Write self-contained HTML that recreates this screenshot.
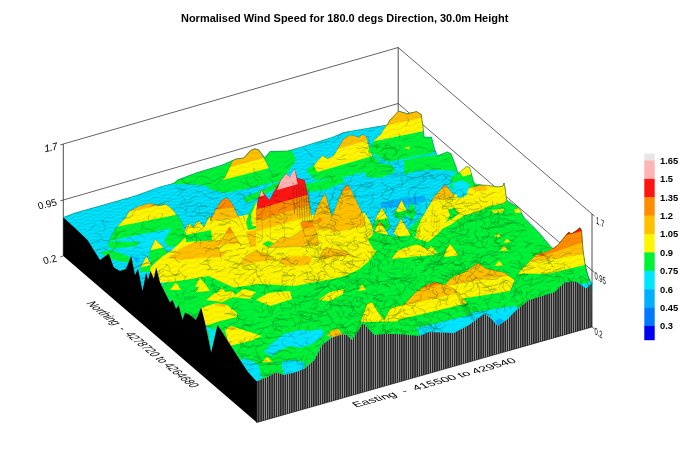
<!DOCTYPE html>
<html><head><meta charset="utf-8"><title>Normalised Wind Speed</title>
<style>html,body{margin:0;padding:0;background:#fff}body{width:690px;height:460px;overflow:hidden}
svg text{font-family:"Liberation Sans",sans-serif;fill:#000}</style></head>
<body><svg width="690" height="460" viewBox="0 0 690 460" style="display:block"><defs><pattern id="m3" width="10" height="3.4" patternUnits="userSpaceOnUse" patternTransform="rotate(-16)"><path d="M0 1.7 q2.5 -2 5 0 t5 0" fill="none" stroke="#035" stroke-opacity="0.38" stroke-width="0.5"/></pattern><clipPath id="c1"><polygon points="213.8,186.0 225.0,177.5 232.5,161.0 236.0,159.0 243.8,158.0 250.0,151.0 254.5,148.8 258.8,150.0 265.0,160.0 270.0,170.0 273.0,177.0 245.0,182.0"/></clipPath><clipPath id="c2"><polygon points="313.8,165.0 322.5,155.5 327.5,158.8 333.8,155.5 343.8,138.8 350.0,135.0 355.5,136.2 358.8,137.5 362.5,134.5 366.2,136.2 370.0,150.0 373.8,160.0 365.0,167.5 340.0,172.5 317.5,173.8"/></clipPath><clipPath id="c3"><polygon points="373.0,141.5 380.0,135.0 390.0,120.0 398.3,111.1 407.5,113.8 416.5,111.6 421.2,114.5 423.0,126.7 423.0,131.0 373.0,141.6"/></clipPath><clipPath id="c4"><polygon points="107.4,245.4 114.3,229.8 125.7,217.6 129.1,211.5 138.7,206.3 149.1,203.3 159.6,205.4 166.5,204.6 172.6,209.8 180.4,219.3 185.7,229.8 188.0,236.0 170.0,238.0 150.0,250.0 125.0,250.0"/></clipPath><clipPath id="c5"><polygon points="149.0,253.0 155.2,239.3 163.0,247.0 168.0,252.5 160.0,262.0 151.0,265.0"/></clipPath><clipPath id="c6"><polygon points="140.0,268.0 146.5,255.9 152.0,266.0 152.0,272.0 141.0,272.0"/></clipPath><clipPath id="c7"><polygon points="182.0,236.0 188.0,224.0 192.0,229.0 197.0,221.0 201.0,228.0 205.0,236.0 195.0,240.0"/></clipPath><clipPath id="c8"><polygon points="186.0,232.0 189.6,223.5 194.0,228.0 199.0,220.9 204.0,227.0 209.6,215.7 214.0,224.0 216.0,240.0 186.0,242.0"/></clipPath><clipPath id="c9"><polygon points="210.4,220.0 215.7,209.6 221.7,200.0 227.0,197.4 232.2,203.5 237.4,214.8 240.9,221.7 244.3,230.4 246.0,240.0 212.0,240.0"/></clipPath><clipPath id="c10"><polygon points="218.0,246.0 224.0,236.0 229.6,227.0 235.0,236.0 241.0,246.0 240.0,252.0 220.0,252.0"/></clipPath><clipPath id="c11"><polygon points="256.0,214.0 258.0,200.0 261.5,190.0 265.0,195.0 269.5,200.0 275.0,190.0 281.0,180.0 286.0,174.0 290.0,177.0 294.5,169.0 297.0,178.0 304.5,180.0 308.0,195.0 312.0,220.0 315.0,240.0 312.0,250.0 256.0,252.0"/></clipPath><clipPath id="c12"><polygon points="312.0,222.0 317.0,207.5 325.0,193.0 328.2,203.8 332.0,217.5 332.0,240.0 312.0,240.0"/></clipPath><clipPath id="c13"><polygon points="330.0,222.0 332.0,217.5 339.5,197.5 343.0,190.0 347.0,184.5 351.0,190.0 354.5,197.5 362.0,212.5 367.0,232.5 366.0,240.0 330.0,242.0"/></clipPath><clipPath id="c14"><polygon points="372.0,228.0 376.7,216.0 382.0,207.4 387.6,218.0 391.0,228.0 380.0,232.0"/></clipPath><clipPath id="c15"><polygon points="393.0,216.0 398.0,207.0 401.7,199.8 405.0,207.0 409.0,214.0 400.0,220.0"/></clipPath><clipPath id="c16"><polygon points="425.6,211.7 434.3,196.5 445.2,184.6 451.7,192.2 460.4,205.2 464.8,211.7 455.0,222.0 430.0,226.0"/></clipPath><clipPath id="c17"><polygon points="443.0,258.0 446.0,250.0 450.0,243.8 455.0,250.0 461.5,260.0 452.0,264.0"/></clipPath><clipPath id="c18"><polygon points="355.0,334.0 362.0,318.0 367.0,304.0 372.0,302.0 378.0,312.0 384.0,320.0 390.0,309.0 396.0,306.5 404.0,305.0 410.0,300.0 410.0,338.0 355.0,338.0"/></clipPath><clipPath id="c19"><polygon points="440.0,290.0 451.5,277.5 464.0,272.5 477.8,263.0 486.5,268.8 504.0,272.5 516.5,281.2 524.0,287.5 531.0,294.0 531.0,302.0 516.5,312.0 506.5,322.0 497.8,328.0 490.0,320.0 484.0,316.0 469.0,327.0 440.0,327.0"/></clipPath><clipPath id="c20"><polygon points="398.0,312.0 404.0,305.0 414.0,293.8 424.0,286.2 434.0,282.0 445.2,285.0 454.0,288.8 466.5,302.5 471.5,315.0 478.0,319.0 469.0,327.0 454.0,335.0 429.0,334.0 419.0,338.0 404.0,336.5 398.0,336.0"/></clipPath><clipPath id="c21"><polygon points="510.0,292.0 515.0,280.0 519.4,271.8 537.0,254.0 548.7,251.2 558.5,244.4 567.3,233.6 569.3,232.2 571.0,234.0 576.0,231.0 580.0,227.7 581.6,230.7 583.0,250.2 585.0,264.0 587.9,275.7 590.8,282.5 592.5,283.5 592.5,290.0 585.9,290.0 576.1,284.0 564.4,285.0 554.6,294.0 544.0,297.5 529.0,302.0 518.0,310.0"/></clipPath><clipPath id="c22"><polygon points="318.0,262.0 322.0,252.0 326.0,247.5 334.0,249.0 345.0,251.0 356.0,258.0 350.0,262.0"/></clipPath><clipPath id="c23"><polygon points="371.7,240.0 375.0,230.0 379.3,220.7 383.0,226.0 387.0,232.0 391.3,240.7 380.0,244.0"/></clipPath><clipPath id="c24"><polygon points="393.5,233.0 397.0,226.0 401.0,218.5 406.5,227.6 413.0,238.5 402.0,241.0"/></clipPath><clipPath id="c25"><polygon points="391.3,259.0 400.0,247.2 408.7,241.3 421.7,246.0 434.8,253.7 428.0,260.0 400.0,262.0"/></clipPath><clipPath id="c26"><polygon points="238.0,266.0 246.0,256.0 256.0,250.5 266.0,254.0 280.0,262.0 276.0,268.0 244.0,269.0"/></clipPath><pattern id="m1" width="13" height="5.5" patternUnits="userSpaceOnUse" patternTransform="rotate(-16)"><path d="M0 2.5 q3.2 -2.6 6.5 0 t6.5 0" fill="none" stroke="#013" stroke-opacity="0.17" stroke-width="0.55"/></pattern><clipPath id="surfc"><polygon points="63.3,217.5 75.0,213.0 100.0,206.0 135.0,196.0 160.0,187.0 175.0,183.0 177.5,180.0 197.5,172.5 222.5,165.0 232.5,160.5 236.0,159.0 243.8,158.0 250.0,151.0 254.5,148.8 258.8,150.0 265.0,158.0 270.0,151.5 287.5,151.0 300.0,147.5 332.0,137.5 343.8,132.5 372.5,127.5 387.5,125.0 390.0,120.0 398.8,111.2 407.5,113.8 416.5,111.6 421.2,114.5 423.0,126.7 424.0,137.2 431.5,137.2 434.5,149.0 437.4,155.8 447.2,151.9 451.1,153.8 456.0,166.6 458.0,173.4 466.8,166.6 469.7,167.5 472.6,178.3 474.6,186.1 478.5,184.5 499.0,187.0 503.0,186.0 504.0,183.0 505.0,187.5 506.5,200.0 519.0,208.0 524.0,217.5 539.0,232.5 551.5,247.5 554.0,249.0 558.5,244.4 567.3,233.6 569.3,232.2 571.0,234.0 576.0,231.0 580.0,227.7 581.6,230.7 583.0,250.2 585.0,264.0 587.9,275.7 590.8,282.5 591.8,283.5 585.9,288.4 576.1,281.6 564.4,282.5 554.6,292.3 544.0,295.5 529.0,300.0 516.5,310.0 506.5,320.0 497.8,326.0 490.0,317.5 484.0,313.8 469.0,325.0 454.0,333.0 429.0,332.0 419.0,336.0 404.0,334.5 387.0,333.8 374.5,335.0 368.2,328.8 363.2,323.0 357.0,332.5 352.0,340.0 347.0,335.0 342.0,334.5 332.0,337.5 322.0,345.0 314.5,360.0 304.5,368.8 294.5,372.5 284.5,375.0 275.8,372.5 269.5,376.0 256.8,381.5 248.0,372.0 240.0,360.0 232.0,347.5 222.5,332.5 217.5,325.0 211.2,352.5 205.0,322.5 201.2,307.5 196.0,320.0 190.0,315.0 185.0,312.5 182.5,320.0 178.8,305.5 176.0,308.8 172.5,300.0 170.0,302.5 165.0,292.5 160.0,282.5 156.2,267.5 153.8,278.8 150.5,271.0 148.0,280.0 146.2,272.5 142.5,291.0 138.0,268.8 135.0,275.0 131.2,256.0 126.0,269.0 120.0,271.0 113.8,267.5 108.8,253.8 104.0,257.0 100.0,260.0 87.5,240.0 75.0,228.0 63.3,217.5"/></clipPath><pattern id="st" width="2.2" height="8" patternUnits="userSpaceOnUse"><rect width="2.2" height="8" fill="#262626"/><rect x="0" width="0.55" height="8" fill="#c8c8c8"/></pattern></defs><polyline points="63.3,144.0 398.2,47.5 592.0,214.0" fill="none" stroke="#222" stroke-width="0.7"/>
<polyline points="63.3,200.0 398.2,103.5 592.0,270.5" fill="none" stroke="#222" stroke-width="0.7"/>
<polyline points="63.3,144.0 63.3,256.0" fill="none" stroke="#222" stroke-width="0.8"/>
<polyline points="398.2,47.5 398.2,159.5" fill="none" stroke="#222" stroke-width="0.8"/>
<polyline points="592.0,214.0 592.0,327.0" fill="none" stroke="#222" stroke-width="0.8"/>
<polyline points="60.3,144.9 63.3,144.0" fill="none" stroke="#222" stroke-width="0.7"/>
<polyline points="60.3,200.9 63.3,200.0" fill="none" stroke="#222" stroke-width="0.7"/>
<polyline points="60.3,256.9 63.3,256.0" fill="none" stroke="#222" stroke-width="0.7"/>
<polyline points="592.0,214.0 594.5,216.0" fill="none" stroke="#222" stroke-width="0.7"/>
<polyline points="592.0,270.5 594.5,272.5" fill="none" stroke="#222" stroke-width="0.7"/>
<polyline points="592.0,327.0 594.5,329.0" fill="none" stroke="#222" stroke-width="0.7"/>
<polygon points="63.3,217.5 75.0,213.0 100.0,206.0 135.0,196.0 160.0,187.0 175.0,183.0 177.5,180.0 197.5,172.5 222.5,165.0 232.5,160.5 236.0,159.0 243.8,158.0 250.0,151.0 254.5,148.8 258.8,150.0 265.0,158.0 270.0,151.5 287.5,151.0 300.0,147.5 332.0,137.5 343.8,132.5 372.5,127.5 387.5,125.0 390.0,120.0 398.8,111.2 407.5,113.8 416.5,111.6 421.2,114.5 423.0,126.7 424.0,137.2 431.5,137.2 434.5,149.0 437.4,155.8 447.2,151.9 451.1,153.8 456.0,166.6 458.0,173.4 466.8,166.6 469.7,167.5 472.6,178.3 474.6,186.1 478.5,184.5 499.0,187.0 503.0,186.0 504.0,183.0 505.0,187.5 506.5,200.0 519.0,208.0 524.0,217.5 539.0,232.5 551.5,247.5 554.0,249.0 558.5,244.4 567.3,233.6 569.3,232.2 571.0,234.0 576.0,231.0 580.0,227.7 581.6,230.7 583.0,250.2 585.0,264.0 587.9,275.7 590.8,282.5 591.8,283.5 585.9,288.4 576.1,281.6 564.4,282.5 554.6,292.3 544.0,295.5 529.0,300.0 516.5,310.0 506.5,320.0 497.8,326.0 490.0,317.5 484.0,313.8 469.0,325.0 454.0,333.0 429.0,332.0 419.0,336.0 404.0,334.5 387.0,333.8 374.5,335.0 368.2,328.8 363.2,323.0 357.0,332.5 352.0,340.0 347.0,335.0 342.0,334.5 332.0,337.5 322.0,345.0 314.5,360.0 304.5,368.8 294.5,372.5 284.5,375.0 275.8,372.5 269.5,376.0 256.8,381.5 248.0,372.0 240.0,360.0 232.0,347.5 222.5,332.5 217.5,325.0 211.2,352.5 205.0,322.5 201.2,307.5 196.0,320.0 190.0,315.0 185.0,312.5 182.5,320.0 178.8,305.5 176.0,308.8 172.5,300.0 170.0,302.5 165.0,292.5 160.0,282.5 156.2,267.5 153.8,278.8 150.5,271.0 148.0,280.0 146.2,272.5 142.5,291.0 138.0,268.8 135.0,275.0 131.2,256.0 126.0,269.0 120.0,271.0 113.8,267.5 108.8,253.8 104.0,257.0 100.0,260.0 87.5,240.0 75.0,228.0 63.3,217.5" fill="#00f236" stroke="#0a8" stroke-width="0.4"/>
<polygon points="63.3,217.5 75.0,213.0 100.0,206.0 135.0,196.0 160.0,187.0 175.0,183.0 177.5,180.0 197.5,172.5 222.5,165.0 232.5,160.5 236.0,159.0 243.8,158.0 250.0,151.0 254.5,148.8 258.8,150.0 265.0,158.0 270.0,151.5 287.5,151.0 300.0,147.5 332.0,137.5 343.8,132.5 372.5,127.5 387.5,125.0 390.0,120.0 398.8,111.2 407.5,113.8 416.5,111.6 421.2,114.5 423.0,126.7 424.0,137.2 431.5,137.2 434.5,149.0 437.4,155.8 458.0,175.0 470.0,190.0 480.0,200.0 470.0,215.0 440.0,235.0 400.0,240.0 330.0,235.0 255.0,215.0 200.0,262.0 150.0,292.0 142.5,291.0 138.0,268.8 135.0,275.0 131.2,256.0 126.0,269.0 120.0,271.0 113.8,267.5 108.8,253.8 104.0,257.0 100.0,260.0 87.5,240.0 75.0,228.0 63.3,217.5" fill="#00e6ff"/>
<polygon points="63.3,217.5 75.0,213.0 100.0,206.0 135.0,196.0 160.0,187.0 175.0,183.0 177.5,180.0 197.5,172.5 222.5,165.0 232.5,160.5 236.0,159.0 243.8,158.0 250.0,151.0 254.5,148.8 258.8,150.0 265.0,158.0 270.0,151.5 287.5,151.0 300.0,147.5 332.0,137.5 343.8,132.5 372.5,127.5 387.5,125.0 390.0,120.0 398.8,111.2 407.5,113.8 416.5,111.6 421.2,114.5 423.0,126.7 424.0,137.2 431.5,137.2 434.5,149.0 437.4,155.8 458.0,175.0 470.0,190.0 480.0,200.0 470.0,215.0 440.0,235.0 400.0,240.0 330.0,235.0 255.0,215.0 200.0,262.0 150.0,292.0 142.5,291.0 138.0,268.8 135.0,275.0 131.2,256.0 126.0,269.0 120.0,271.0 113.8,267.5 108.8,253.8 104.0,257.0 100.0,260.0 87.5,240.0 75.0,228.0 63.3,217.5" fill="url(#m3)"/>
<polygon points="172.0,184.0 177.5,180.0 197.5,172.5 222.5,165.0 234.0,160.0 228.0,178.0 214.0,186.5 192.0,184.5" fill="#00f236"/>
<polygon points="205.0,186.0 225.0,176.0 272.0,172.0 264.0,158.0 270.0,151.5 287.5,151.0 292.0,150.0 296.0,160.0 288.0,172.0 280.0,181.0 250.0,188.0 225.0,193.0 212.0,190.0" fill="#00f236"/>
<g clip-path="url(#c1)"><polygon points="211.8,205.3 275.0,188.9 275.0,177.1 211.8,193.5" fill="#00e6ff"/><polygon points="211.8,194.1 275.0,177.7 275.0,165.9 211.8,182.3" fill="#00f236"/><polygon points="211.8,182.9 275.0,166.5 275.0,154.7 211.8,171.1" fill="#fff500"/><polygon points="211.8,171.7 275.0,155.3 275.0,143.5 211.8,159.9" fill="#ffc000"/><polygon points="211.8,160.5 275.0,144.1 275.0,132.3 211.8,148.7" fill="#ff8c00"/><polygon points="211.8,149.3 275.0,132.9 275.0,121.1 211.8,137.5" fill="#ff1414"/></g>
<polyline points="213.8,186.0 225.0,177.5 232.5,161.0 236.0,159.0 243.8,158.0 250.0,151.0 254.5,148.8 258.8,150.0 265.0,160.0 270.0,170.0 273.0,177.0" fill="none" stroke="#000" stroke-opacity="0.35" stroke-width="0.5"/>
<polygon points="243.0,198.0 262.0,190.0 277.0,182.0 281.0,186.0 262.0,196.0 247.0,203.0" fill="#00f236"/>
<polygon points="305.0,184.0 325.0,180.0 342.0,176.0 344.0,182.0 325.0,190.0 308.0,192.0" fill="#00f236"/>
<polygon points="306.0,170.0 313.8,165.0 340.0,168.0 372.0,156.0 380.0,160.0 372.0,170.0 340.0,178.0 315.0,180.0" fill="#00f236"/>
<g clip-path="url(#c2)"><polygon points="311.8,207.6 375.8,189.0 375.8,171.4 311.8,190.0" fill="#00f236"/><polygon points="311.8,190.6 375.8,172.0 375.8,154.4 311.8,173.0" fill="#00f236"/><polygon points="311.8,173.6 375.8,155.0 375.8,137.4 311.8,156.0" fill="#fff500"/><polygon points="311.8,156.6 375.8,138.0 375.8,120.4 311.8,139.0" fill="#ffc000"/><polygon points="311.8,139.6 375.8,121.0 375.8,103.4 311.8,122.0" fill="#ff8c00"/></g>
<polyline points="313.8,165.0 322.5,155.5 327.5,158.8 333.8,155.5 343.8,138.8 350.0,135.0 355.5,136.2 358.8,137.5 362.5,134.5 366.2,136.2 370.0,150.0 373.8,160.0" fill="none" stroke="#000" stroke-opacity="0.35" stroke-width="0.5"/>
<polygon points="373.0,141.5 422.6,131.0 424.7,137.2 431.5,137.2 434.8,151.0 430.0,154.0 417.0,156.0 403.0,159.0 388.0,162.0 376.5,155.5 368.0,152.0" fill="#00f236"/>
<polygon points="404.0,148.0 410.0,146.5 409.0,149.5" fill="#fff500"/>
<g clip-path="url(#c3)"><polygon points="371.0,156.5 425.0,145.0 425.0,130.4 371.0,141.9" fill="#fff500"/><polygon points="371.0,142.5 425.0,131.0 425.0,116.4 371.0,127.9" fill="#fff500"/><polygon points="371.0,128.5 425.0,117.0 425.0,102.4 371.0,113.9" fill="#ffc000"/><polygon points="371.0,114.5 425.0,103.0 425.0,88.4 371.0,99.9" fill="#ff8c00"/></g>
<polyline points="373.0,141.5 380.0,135.0 390.0,120.0 398.3,111.1 407.5,113.8 416.5,111.6 421.2,114.5 423.0,126.7" fill="none" stroke="#000" stroke-opacity="0.35" stroke-width="0.5"/>
<polygon points="426.0,159.0 434.8,154.6 437.4,155.8 447.0,152.3 451.1,153.8 454.8,164.1 456.5,169.3 455.0,171.0 442.0,170.0 430.0,169.5 416.0,171.0 403.0,175.0 408.0,168.0" fill="#00f236"/>
<polygon points="363.5,167.0 375.0,162.5 392.0,165.0 395.0,172.0 380.0,178.0 366.0,177.0" fill="#00f236"/>
<polygon points="452.0,176.0 458.0,173.4 466.8,166.6 469.7,167.5 472.6,178.3 474.6,186.1 470.0,192.0 458.0,192.0 450.0,186.0" fill="#00f236"/>
<polygon points="459.5,172.0 466.8,166.6 469.7,167.5 471.5,174.0 463.0,176.5" fill="#fff500"/>
<g clip-path="url(#c4)"><polygon points="105.4,279.0 190.0,262.1 190.0,249.0 105.4,265.9" fill="#00e6ff"/><polygon points="105.4,266.5 190.0,249.6 190.0,236.5 105.4,253.4" fill="#00e6ff"/><polygon points="105.4,254.0 190.0,237.1 190.0,224.0 105.4,240.9" fill="#00e6ff"/><polygon points="105.4,241.5 190.0,224.6 190.0,211.5 105.4,228.4" fill="#00f236"/><polygon points="105.4,229.0 190.0,212.1 190.0,199.0 105.4,215.9" fill="#fff500"/><polygon points="105.4,216.5 190.0,199.6 190.0,186.5 105.4,203.4" fill="#ffc000"/><polygon points="105.4,204.0 190.0,187.1 190.0,174.0 105.4,190.9" fill="#ff8c00"/></g>
<polyline points="107.4,245.4 114.3,229.8 125.7,217.6 129.1,211.5 138.7,206.3 149.1,203.3 159.6,205.4 166.5,204.6 172.6,209.8 180.4,219.3 185.7,229.8 188.0,236.0" fill="none" stroke="#000" stroke-opacity="0.35" stroke-width="0.5"/>
<polygon points="107.4,245.4 110.0,241.0 135.0,242.0 140.0,240.0 137.0,246.0 125.0,247.5 112.0,249.0" fill="#00f236"/>
<polygon points="137.0,236.0 150.0,233.0 152.0,247.0 143.0,250.0" fill="#00e6ff"/>
<polygon points="164.0,240.0 172.0,228.0 181.0,226.0 186.0,232.0 188.0,240.0 178.0,246.0 168.0,247.0" fill="#00f236"/>
<g clip-path="url(#c5)"><polygon points="147.0,277.9 170.0,273.3 170.0,263.7 147.0,268.3" fill="#00f236"/><polygon points="147.0,268.9 170.0,264.3 170.0,254.7 147.0,259.3" fill="#00f236"/><polygon points="147.0,259.9 170.0,255.3 170.0,245.7 147.0,250.3" fill="#00f236"/><polygon points="147.0,250.9 170.0,246.3 170.0,236.7 147.0,241.3" fill="#fff500"/><polygon points="147.0,241.9 170.0,237.3 170.0,227.7 147.0,232.3" fill="#fff500"/></g>
<polyline points="149.0,253.0 155.2,239.3 163.0,247.0 168.0,252.5" fill="none" stroke="#000" stroke-opacity="0.35" stroke-width="0.5"/>
<g clip-path="url(#c6)"><polygon points="138.0,285.9 154.0,282.7 154.0,273.1 138.0,276.3" fill="#00f236"/><polygon points="138.0,276.9 154.0,273.7 154.0,264.1 138.0,267.3" fill="#00f236"/><polygon points="138.0,267.9 154.0,264.7 154.0,255.1 138.0,258.3" fill="#fff500"/><polygon points="138.0,258.9 154.0,255.7 154.0,246.1 138.0,249.3" fill="#fff500"/></g>
<polyline points="140.0,268.0 146.5,255.9 152.0,266.0" fill="none" stroke="#000" stroke-opacity="0.35" stroke-width="0.5"/>
<polygon points="100.0,252.0 112.0,250.0 128.0,256.0 133.0,262.0 122.0,262.0 108.0,258.0" fill="#00f236"/>
<polygon points="132.0,256.0 140.0,258.0 137.0,263.0" fill="#00b0ff"/>
<g clip-path="url(#c7)"><polygon points="180.0,253.3 207.0,247.9 207.0,237.3 180.0,242.7" fill="#00f236"/><polygon points="180.0,243.3 207.0,237.9 207.0,227.3 180.0,232.7" fill="#00f236"/><polygon points="180.0,233.3 207.0,227.9 207.0,217.3 180.0,222.7" fill="#fff500"/><polygon points="180.0,223.3 207.0,217.9 207.0,207.3 180.0,212.7" fill="#fff500"/></g>
<polyline points="182.0,236.0 188.0,224.0 192.0,229.0 197.0,221.0 201.0,228.0 205.0,236.0" fill="none" stroke="#000" stroke-opacity="0.35" stroke-width="0.5"/>
<polygon points="150.0,268.0 160.0,258.0 172.0,250.0 185.0,238.0 205.0,232.0 215.0,222.0 245.0,215.0 258.0,212.0 312.0,215.0 335.0,215.0 365.0,213.0 372.0,225.0 377.0,250.0 368.0,262.0 358.0,270.0 345.0,276.0 332.0,279.0 294.5,286.0 260.0,284.0 233.5,287.5 208.5,276.0 185.0,280.0 161.0,283.0 152.0,278.0" fill="#fff500"/>
<polygon points="168.0,258.0 180.0,249.0 198.0,240.0 212.0,234.0 228.0,238.0 230.0,250.0 222.0,257.0 200.0,258.0 180.0,260.0" fill="#ffc000"/>
<polygon points="246.0,232.0 262.0,228.0 290.0,226.0 318.0,228.0 322.0,240.0 300.0,247.0 270.0,248.0 250.0,246.0" fill="#ffc000"/>
<polygon points="276.0,259.0 295.0,256.0 311.0,258.0 308.0,265.0 285.0,266.0" fill="#ffc000"/>
<polygon points="201.0,308.0 215.0,303.5 227.0,305.0 237.0,313.0 237.0,317.0 220.0,321.0 205.0,326.0" fill="#fff500"/>
<polygon points="214.0,304.5 218.0,303.0 227.0,305.0 225.0,307.5" fill="#ffc000"/>
<polygon points="225.0,330.0 231.0,326.0 240.0,329.0 262.0,336.0 250.0,341.0 229.0,346.0" fill="#fff500"/>
<polygon points="228.0,328.0 231.0,326.0 237.0,328.5 233.0,330.0" fill="#ffc000"/>
<polygon points="237.0,362.0 248.0,372.0 256.8,381.5 262.0,378.0 258.0,364.0 245.0,358.0" fill="#00e6ff"/>
<polygon points="195.0,287.0 200.0,277.5 206.0,286.0" fill="#fff500"/>
<polygon points="170.0,290.0 176.0,282.0 181.0,290.0" fill="#fff500"/>
<polygon points="215.0,296.0 222.0,287.0 228.0,296.0" fill="#fff500"/>
<g clip-path="url(#c8)"><polygon points="184.0,255.5 218.0,248.7 218.0,238.1 184.0,244.9" fill="#00f236"/><polygon points="184.0,245.5 218.0,238.7 218.0,228.1 184.0,234.9" fill="#00f236"/><polygon points="184.0,235.5 218.0,228.7 218.0,218.1 184.0,224.9" fill="#fff500"/><polygon points="184.0,225.5 218.0,218.7 218.0,208.1 184.0,214.9" fill="#fff500"/><polygon points="184.0,215.5 218.0,208.7 218.0,198.1 184.0,204.9" fill="#fff500"/></g>
<polyline points="186.0,232.0 189.6,223.5 194.0,228.0 199.0,220.9 204.0,227.0 209.6,215.7 214.0,224.0" fill="none" stroke="#000" stroke-opacity="0.35" stroke-width="0.5"/>
<g clip-path="url(#c9)"><polygon points="208.4,254.2 248.0,250.2 248.0,238.6 208.4,242.6" fill="#fff500"/><polygon points="208.4,243.2 248.0,239.2 248.0,227.6 208.4,231.6" fill="#fff500"/><polygon points="208.4,232.2 248.0,228.2 248.0,216.6 208.4,220.6" fill="#fff500"/><polygon points="208.4,221.2 248.0,217.2 248.0,205.6 208.4,209.6" fill="#ffc000"/><polygon points="208.4,210.2 248.0,206.2 248.0,194.6 208.4,198.6" fill="#ff8c00"/><polygon points="208.4,199.2 248.0,195.2 248.0,183.6 208.4,187.6" fill="#ff1414"/></g>
<polyline points="210.4,220.0 215.7,209.6 221.7,200.0 227.0,197.4 232.2,203.5 237.4,214.8 240.9,221.7 244.3,230.4" fill="none" stroke="#000" stroke-opacity="0.35" stroke-width="0.5"/>
<g clip-path="url(#c10)"><polygon points="216.0,267.7 243.0,265.0 243.0,253.4 216.0,256.1" fill="#fff500"/><polygon points="216.0,256.7 243.0,254.0 243.0,242.4 216.0,245.1" fill="#fff500"/><polygon points="216.0,245.7 243.0,243.0 243.0,231.4 216.0,234.1" fill="#ffc000"/><polygon points="216.0,234.7 243.0,232.0 243.0,220.4 216.0,223.1" fill="#ff8c00"/></g>
<polyline points="218.0,246.0 224.0,236.0 229.6,227.0 235.0,236.0 241.0,246.0" fill="none" stroke="#000" stroke-opacity="0.35" stroke-width="0.5"/>
<polygon points="246.0,222.0 249.6,212.0 254.0,204.0 256.5,201.7 258.0,212.0 258.0,228.0 248.0,230.0" fill="#00f236"/>
<polygon points="251.0,215.0 256.5,201.7 258.0,212.0 258.0,226.0 252.0,226.0" fill="#fff500"/>
<g clip-path="url(#c11)"><polygon points="254.0,276.0 317.0,258.0 317.0,246.4 254.0,264.4" fill="#fff500"/><polygon points="254.0,265.0 317.0,247.0 317.0,235.4 254.0,253.4" fill="#fff500"/><polygon points="254.0,254.0 317.0,236.0 317.0,224.4 254.0,242.4" fill="#fff500"/><polygon points="254.0,243.0 317.0,225.0 317.0,213.4 254.0,231.4" fill="#fff500"/><polygon points="254.0,232.0 317.0,214.0 317.0,202.4 254.0,220.4" fill="#ffc000"/><polygon points="254.0,221.0 317.0,203.0 317.0,191.4 254.0,209.4" fill="#ff8c00"/><polygon points="254.0,210.0 317.0,192.0 317.0,180.4 254.0,198.4" fill="#ff1414"/><polygon points="254.0,199.0 317.0,181.0 317.0,169.4 254.0,187.4" fill="#ff1414"/><polygon points="254.0,188.0 317.0,170.0 317.0,158.4 254.0,176.4" fill="#ff1414"/><polygon points="254.0,177.0 317.0,159.0 317.0,147.4 254.0,165.4" fill="#ff1414"/></g>
<polyline points="256.0,214.0 258.0,200.0 261.5,190.0 265.0,195.0 269.5,200.0 275.0,190.0 281.0,180.0 286.0,174.0 290.0,177.0 294.5,169.0 297.0,178.0 304.5,180.0 308.0,195.0 312.0,220.0 315.0,240.0" fill="none" stroke="#000" stroke-opacity="0.35" stroke-width="0.5"/>
<polygon points="277.0,190.0 281.0,180.0 286.0,174.0 290.0,177.0 292.5,172.0 294.5,169.0 296.0,176.0 297.5,184.3" fill="#ffb4b4"/>
<polygon points="259.3,196.8 261.5,190.0 264.2,195.4" fill="#ffb4b4"/>
<polygon points="380.0,203.0 392.0,200.0 402.0,198.0 425.0,195.5 426.0,201.0 404.0,206.0 390.0,208.0 381.0,207.5" fill="#00b0ff"/>
<polygon points="451.7,176.0 470.0,180.0 480.0,186.0 478.0,194.0 462.0,193.0 452.0,188.0" fill="#00f236"/>
<g clip-path="url(#c12)"><polygon points="310.0,262.3 334.0,257.5 334.0,226.9 310.0,231.7" fill="#fff500"/><polygon points="310.0,232.3 334.0,227.5 334.0,196.9 310.0,201.7" fill="#ffc000"/><polygon points="310.0,202.3 334.0,197.5 334.0,166.9 310.0,171.7" fill="#ffc000"/></g>
<polyline points="312.0,222.0 317.0,207.5 325.0,193.0 328.2,203.8 332.0,217.5" fill="none" stroke="#000" stroke-opacity="0.35" stroke-width="0.5"/>
<g clip-path="url(#c13)"><polygon points="320.0,180.0 370.0,180.0 370.0,245.0 320.0,245.0" fill="#fff500"/><polygon points="320.0,180.0 370.0,180.0 370.0,225.0 320.0,235.0" fill="#ffc000"/><polygon points="320.0,180.0 370.0,180.0 370.0,186.0 320.0,196.0" fill="#ff8c00"/></g>
<polyline points="330.0,222.0 332.0,217.5 339.5,197.5 343.0,190.0 347.0,184.5 351.0,190.0 354.5,197.5 362.0,212.5 367.0,232.5" fill="none" stroke="#000" stroke-opacity="0.35" stroke-width="0.5"/>
<g clip-path="url(#c14)"><polygon points="370.0,241.1 393.0,237.7 393.0,227.0 370.0,230.5" fill="#00f236"/><polygon points="370.0,231.1 393.0,227.7 393.0,217.0 370.0,220.5" fill="#00f236"/><polygon points="370.0,221.1 393.0,217.7 393.0,207.0 370.0,210.5" fill="#fff500"/><polygon points="370.0,211.1 393.0,207.7 393.0,197.0 370.0,200.5" fill="#fff500"/></g>
<polyline points="372.0,228.0 376.7,216.0 382.0,207.4 387.6,218.0 391.0,228.0" fill="none" stroke="#000" stroke-opacity="0.35" stroke-width="0.5"/>
<g clip-path="url(#c15)"><polygon points="391.0,232.9 411.0,229.9 411.0,219.3 391.0,222.3" fill="#00f236"/><polygon points="391.0,222.9 411.0,219.9 411.0,209.3 391.0,212.3" fill="#00f236"/><polygon points="391.0,212.9 411.0,209.9 411.0,199.3 391.0,202.3" fill="#fff500"/><polygon points="391.0,202.9 411.0,199.9 411.0,189.3 391.0,192.3" fill="#fff500"/></g>
<polyline points="393.0,216.0 398.0,207.0 401.7,199.8 405.0,207.0 409.0,214.0" fill="none" stroke="#000" stroke-opacity="0.35" stroke-width="0.5"/>
<polygon points="407.0,214.0 411.5,202.0 416.0,212.0 412.0,222.0" fill="#00f236"/>
<polygon points="404.0,240.0 410.0,228.0 424.0,214.0 440.0,205.0 470.0,200.0 482.0,200.0 470.0,216.0 440.0,236.0 420.0,242.0" fill="#00f236"/>
<polygon points="404.0,160.0 420.0,157.0 437.0,155.0 440.0,162.0 425.0,168.0 404.0,172.0" fill="#00f236"/>
<polygon points="416.0,232.0 421.0,220.0 428.0,208.0 440.0,215.0 438.0,228.0 430.0,236.0" fill="#fff500"/>
<g clip-path="url(#c16)"><polygon points="423.6,247.3 466.8,238.7 466.8,227.1 423.6,235.7" fill="#00f236"/><polygon points="423.6,236.3 466.8,227.7 466.8,216.1 423.6,224.7" fill="#00f236"/><polygon points="423.6,225.3 466.8,216.7 466.8,205.1 423.6,213.7" fill="#00f236"/><polygon points="423.6,214.3 466.8,205.7 466.8,194.1 423.6,202.7" fill="#fff500"/><polygon points="423.6,203.3 466.8,194.7 466.8,183.1 423.6,191.7" fill="#ffc000"/><polygon points="423.6,192.3 466.8,183.7 466.8,172.1 423.6,180.7" fill="#ff8c00"/></g>
<polyline points="425.6,211.7 434.3,196.5 445.2,184.6 451.7,192.2 460.4,205.2 464.8,211.7" fill="none" stroke="#000" stroke-opacity="0.35" stroke-width="0.5"/>
<polygon points="451.5,203.8 454.0,195.0 461.5,190.0 472.8,187.0 486.5,185.0 499.0,187.0 503.0,186.0 504.0,183.0 505.0,187.5 506.5,200.0 504.0,203.8 489.0,206.2 479.0,211.2 466.5,215.0 457.8,212.5" fill="#fff500" stroke="#665" stroke-width="0.3"/>
<polygon points="471.5,188.0 479.0,185.5 486.5,185.5 486.5,190.0 475.0,191.5" fill="#ffc000"/>
<polygon points="491.5,210.0 504.0,208.8 503.0,212.5 493.0,213.0" fill="#fff500"/>
<polygon points="514.0,210.0 519.0,208.0 521.5,212.5 516.0,213.0" fill="#fff500"/>
<g clip-path="url(#c17)"><polygon points="441.0,269.2 463.5,266.9 463.5,254.3 441.0,256.6" fill="#00f236"/><polygon points="441.0,257.2 463.5,255.0 463.5,242.3 441.0,244.6" fill="#fff500"/><polygon points="441.0,245.2 463.5,243.0 463.5,230.3 441.0,232.6" fill="#fff500"/></g>
<polyline points="443.0,258.0 446.0,250.0 450.0,243.8 455.0,250.0 461.5,260.0" fill="none" stroke="#000" stroke-opacity="0.35" stroke-width="0.5"/>
<polygon points="494.0,237.0 498.0,233.5 502.0,236.7" fill="#fff500"/>
<polygon points="503.5,242.5 507.0,238.5 510.5,242.1" fill="#fff500"/>
<polygon points="500.0,251.3 504.0,245.3 508.0,250.7" fill="#fff500"/>
<polygon points="494.5,266.0 499.0,261.0 503.5,265.5" fill="#fff500"/>
<polygon points="424.0,254.0 431.0,246.0 438.0,253.2" fill="#fff500"/>
<polygon points="410.0,256.0 415.0,250.0 420.0,255.4" fill="#fff500"/>
<polygon points="264.0,352.0 270.0,345.0 284.0,334.0 300.0,330.0 310.0,331.0 322.0,329.0 324.0,335.0 312.0,344.0 300.0,348.0 290.0,346.0 280.0,350.0 272.0,356.0" fill="#00e6ff"/>
<polygon points="281.0,362.0 292.0,360.0 305.0,362.0 304.0,372.0 294.0,374.0 284.0,376.0" fill="#00e6ff"/>
<polygon points="262.0,362.0 267.5,356.8 273.0,362.6" fill="#fff500"/>
<polygon points="318.0,300.0 330.0,292.0 344.0,289.0 343.0,294.0 330.0,301.0" fill="#fff500"/>
<polygon points="358.0,291.0 362.0,284.0 366.0,290.0" fill="#fff500"/>
<polygon points="327.0,336.0 332.0,330.0 338.0,328.5 343.0,334.5 338.0,338.0" fill="#ffc000"/>
<g clip-path="url(#c18)"><polygon points="353.0,348.2 412.0,347.0 412.0,333.4 353.0,334.6" fill="#00f236"/><polygon points="353.0,335.2 412.0,334.0 412.0,320.4 353.0,321.6" fill="#00f236"/><polygon points="353.0,322.2 412.0,321.0 412.0,307.4 353.0,308.6" fill="#fff500"/><polygon points="353.0,309.2 412.0,308.0 412.0,294.4 353.0,295.6" fill="#fff500"/></g>
<polyline points="355.0,334.0 362.0,318.0 367.0,304.0 372.0,302.0 378.0,312.0 384.0,320.0 390.0,309.0 396.0,306.5 404.0,305.0 410.0,300.0" fill="none" stroke="#000" stroke-opacity="0.35" stroke-width="0.5"/>
<g clip-path="url(#c19)"><polygon points="438.0,349.1 533.0,333.9 533.0,317.8 438.0,333.0" fill="#00e6ff"/><polygon points="438.0,333.6 533.0,318.4 533.0,302.3 438.0,317.5" fill="#00e6ff"/><polygon points="438.0,318.1 533.0,302.9 533.0,286.8 438.0,302.0" fill="#00f236"/><polygon points="438.0,302.6 533.0,287.4 533.0,271.3 438.0,286.5" fill="#fff500"/><polygon points="438.0,287.1 533.0,271.9 533.0,255.8 438.0,271.0" fill="#ffc000"/><polygon points="438.0,271.6 533.0,256.4 533.0,240.3 438.0,255.5" fill="#ff8c00"/></g>
<polyline points="440.0,290.0 451.5,277.5 464.0,272.5 477.8,263.0 486.5,268.8 504.0,272.5 516.5,281.2 524.0,287.5 531.0,294.0" fill="none" stroke="#000" stroke-opacity="0.35" stroke-width="0.5"/>
<polygon points="495.0,321.0 500.0,318.0 504.0,320.5 498.0,326.0" fill="#00b0ff"/>
<g clip-path="url(#c20)"><polygon points="396.0,370.2 480.0,350.3 480.0,337.2 396.0,357.1" fill="#00e6ff"/><polygon points="396.0,357.7 480.0,337.8 480.0,324.7 396.0,344.6" fill="#00e6ff"/><polygon points="396.0,345.2 480.0,325.3 480.0,312.2 396.0,332.1" fill="#00e6ff"/><polygon points="396.0,332.7 480.0,312.8 480.0,299.7 396.0,319.6" fill="#00f236"/><polygon points="396.0,320.2 480.0,300.3 480.0,287.2 396.0,307.1" fill="#fff500"/><polygon points="396.0,307.7 480.0,287.8 480.0,274.7 396.0,294.6" fill="#ffc000"/><polygon points="396.0,295.2 480.0,275.3 480.0,262.2 396.0,282.1" fill="#ff8c00"/><polygon points="396.0,282.7 480.0,262.8 480.0,249.7 396.0,269.6" fill="#ff1414"/></g>
<polyline points="398.0,312.0 404.0,305.0 414.0,293.8 424.0,286.2 434.0,282.0 445.2,285.0 454.0,288.8 466.5,302.5 471.5,315.0 478.0,319.0" fill="none" stroke="#000" stroke-opacity="0.35" stroke-width="0.5"/>
<g clip-path="url(#c21)"><polygon points="500.0,220.0 600.0,220.0 600.0,300.0 500.0,300.0" fill="#00e6ff"/><polygon points="500.0,220.0 600.0,220.0 600.0,279.0 590.0,281.0 586.0,284.0 580.0,283.0 575.0,286.0 563.0,287.0 553.0,296.0 543.0,299.0 527.0,304.0 500.0,316.0" fill="#00f236"/><polygon points="500.0,220.0 600.0,220.0 600.0,262.0 585.0,265.0 548.7,273.7 519.4,273.7 505.0,280.0" fill="#fff500"/><polygon points="520.0,220.0 600.0,220.0 600.0,251.5 583.6,254.2 537.0,261.0 528.0,262.5" fill="#ffc000"/><polygon points="530.0,220.0 600.0,220.0 600.0,236.0 582.0,242.4 548.7,254.2 540.0,257.0" fill="#ff8c00"/><polygon points="560.0,220.0 600.0,220.0 600.0,226.5 580.0,231.6 568.3,234.6 560.0,236.6" fill="#ff1414"/></g>
<polyline points="510.0,292.0 515.0,280.0 519.4,271.8 537.0,254.0 548.7,251.2 558.5,244.4 567.3,233.6 569.3,232.2 571.0,234.0 576.0,231.0 580.0,227.7 581.6,230.7 583.0,250.2 585.0,264.0 587.9,275.7 590.8,282.5 592.5,283.5" fill="none" stroke="#000" stroke-opacity="0.35" stroke-width="0.5"/>
<polygon points="316.0,222.0 319.5,216.5 323.0,221.0" fill="#ff8c00"/>
<g clip-path="url(#c22)"><polygon points="316.0,272.3 358.0,266.0 358.0,253.4 316.0,259.7" fill="#fff500"/><polygon points="316.0,260.3 358.0,254.0 358.0,241.4 316.0,247.7" fill="#ffc000"/><polygon points="316.0,248.3 358.0,242.0 358.0,229.4 316.0,235.7" fill="#ffc000"/></g>
<polyline points="318.0,262.0 322.0,252.0 326.0,247.5 334.0,249.0 345.0,251.0 356.0,258.0" fill="none" stroke="#000" stroke-opacity="0.35" stroke-width="0.5"/>
<g clip-path="url(#c23)"><polygon points="369.7,252.8 393.3,250.4 393.3,236.8 369.7,239.2" fill="#00f236"/><polygon points="369.7,239.8 393.3,237.4 393.3,223.8 369.7,226.2" fill="#fff500"/><polygon points="369.7,226.8 393.3,224.4 393.3,210.8 369.7,213.2" fill="#ffc000"/></g>
<polyline points="371.7,240.0 375.0,230.0 379.3,220.7 383.0,226.0 387.0,232.0 391.3,240.7" fill="none" stroke="#000" stroke-opacity="0.35" stroke-width="0.5"/>
<g clip-path="url(#c24)"><polygon points="391.5,257.2 415.0,254.9 415.0,234.3 391.5,236.6" fill="#00f236"/><polygon points="391.5,237.2 415.0,234.9 415.0,214.3 391.5,216.6" fill="#fff500"/><polygon points="391.5,217.2 415.0,214.9 415.0,194.3 391.5,196.6" fill="#fff500"/></g>
<polyline points="393.5,233.0 397.0,226.0 401.0,218.5 406.5,227.6 413.0,238.5" fill="none" stroke="#000" stroke-opacity="0.35" stroke-width="0.5"/>
<g clip-path="url(#c25)"><polygon points="389.3,279.2 436.8,274.5 436.8,253.9 389.3,258.6" fill="#00f236"/><polygon points="389.3,259.2 436.8,254.5 436.8,233.9 389.3,238.6" fill="#fff500"/></g>
<polyline points="391.3,259.0 400.0,247.2 408.7,241.3 421.7,246.0 434.8,253.7" fill="none" stroke="#000" stroke-opacity="0.35" stroke-width="0.5"/>
<polygon points="368.0,240.0 375.0,232.0 392.0,236.0 414.0,238.0 418.0,244.0 392.0,252.0 374.0,250.0" fill="#00f236"/>
<polygon points="415.0,238.0 421.0,220.0 430.0,205.0 445.0,200.0 450.0,215.0 440.0,232.0 428.0,242.0" fill="#fff500"/>
<polyline points="293.0,182.0 294.5,214.0" fill="none" stroke="#420" stroke-width="0.6" stroke-opacity="0.5"/>
<polyline points="296.0,183.2 297.5,216.5" fill="none" stroke="#420" stroke-width="0.6" stroke-opacity="0.5"/>
<polyline points="298.5,184.4 300.0,219.0" fill="none" stroke="#420" stroke-width="0.6" stroke-opacity="0.5"/>
<polyline points="301.0,185.6 302.5,221.5" fill="none" stroke="#420" stroke-width="0.6" stroke-opacity="0.5"/>
<polyline points="303.5,186.8 305.0,224.0" fill="none" stroke="#420" stroke-width="0.6" stroke-opacity="0.5"/>
<polyline points="306.0,188.0 307.5,226.5" fill="none" stroke="#420" stroke-width="0.6" stroke-opacity="0.5"/>
<polyline points="308.5,189.2 310.0,229.0" fill="none" stroke="#420" stroke-width="0.6" stroke-opacity="0.5"/>
<polyline points="262.0,206.0 262.5,238.0" fill="none" stroke="#420" stroke-width="0.5" stroke-opacity="0.35"/>
<polyline points="270.0,204.0 270.5,238.0" fill="none" stroke="#420" stroke-width="0.5" stroke-opacity="0.35"/>
<polyline points="284.0,202.0 284.5,238.0" fill="none" stroke="#420" stroke-width="0.5" stroke-opacity="0.35"/>
<polygon points="268.0,247.5 275.0,243.0 282.0,237.0 290.0,238.0 296.0,234.5 305.0,228.0 312.0,224.5 317.0,234.0 318.0,245.0 300.0,246.5 285.0,247.0" fill="#ffc000" stroke="#553" stroke-width="0.3"/>
<polygon points="262.0,244.0 268.0,241.0 274.0,243.0 268.0,247.0" fill="#00f236"/>
<polygon points="300.0,257.0 306.0,255.5 312.0,258.0 310.0,263.5 302.0,263.0" fill="#ffc000"/>
<polygon points="300.0,222.0 312.0,220.0 314.0,227.0 302.0,229.0" fill="#ff8c00"/>
<polygon points="196.0,292.0 203.0,281.0 210.0,291.0" fill="#fff500"/>
<polygon points="206.0,300.0 215.0,293.0 232.0,291.0 236.0,296.0 222.0,302.0" fill="#fff500"/>
<polygon points="233.0,297.0 243.0,289.0 256.0,292.0 250.0,299.0" fill="#fff500"/>
<polygon points="256.0,300.0 268.0,293.0 290.0,291.0 292.0,299.0 270.0,306.0" fill="#fff500"/>
<polygon points="205.0,325.0 209.0,333.0 211.2,353.0 214.0,338.0 217.0,328.0 212.0,330.0" fill="#00e6ff"/>
<polygon points="452.0,183.0 462.0,180.5 470.0,184.0 466.0,196.0 458.0,198.0" fill="#00e6ff"/>
<polygon points="396.0,327.0 410.0,326.0 419.0,330.0 419.0,338.0 396.0,338.0" fill="#00f236"/>
<polygon points="433.0,229.0 451.0,219.5 464.0,210.0 466.0,214.0 452.0,224.0 436.0,232.0" fill="#fff500"/>
<g clip-path="url(#c26)"><polygon points="236.0,289.3 282.0,282.4 282.0,269.8 236.0,276.7" fill="#fff500"/><polygon points="236.0,277.3 282.0,270.4 282.0,257.8 236.0,264.7" fill="#fff500"/><polygon points="236.0,265.3 282.0,258.4 282.0,245.8 236.0,252.7" fill="#ffc000"/><polygon points="236.0,253.3 282.0,246.4 282.0,233.8 236.0,240.7" fill="#ffc000"/></g>
<polyline points="238.0,266.0 246.0,256.0 256.0,250.5 266.0,254.0 280.0,262.0" fill="none" stroke="#000" stroke-opacity="0.35" stroke-width="0.5"/>
<polyline points="456.0,291.0 464.0,312.0" fill="none" stroke="#320" stroke-width="0.6" stroke-opacity="0.4"/>
<polyline points="458.5,294.2 466.6,314.5" fill="none" stroke="#320" stroke-width="0.6" stroke-opacity="0.4"/>
<polyline points="461.0,297.4 469.2,317.0" fill="none" stroke="#320" stroke-width="0.6" stroke-opacity="0.4"/>
<polyline points="463.5,300.6 471.8,319.5" fill="none" stroke="#320" stroke-width="0.6" stroke-opacity="0.4"/>
<polyline points="466.0,303.8 474.4,322.0" fill="none" stroke="#320" stroke-width="0.6" stroke-opacity="0.4"/>
<polyline points="433.0,206.0 431.0,226.0" fill="none" stroke="#320" stroke-width="0.5" stroke-opacity="0.3"/>
<polyline points="435.2,210.0 433.5,229.0" fill="none" stroke="#320" stroke-width="0.5" stroke-opacity="0.3"/>
<polyline points="437.4,214.0 436.0,232.0" fill="none" stroke="#320" stroke-width="0.5" stroke-opacity="0.3"/>
<polyline points="439.6,218.0 438.5,235.0" fill="none" stroke="#320" stroke-width="0.5" stroke-opacity="0.3"/>
<polygon points="63.3,217.5 75.0,213.0 100.0,206.0 135.0,196.0 160.0,187.0 175.0,183.0 177.5,180.0 197.5,172.5 222.5,165.0 232.5,160.5 236.0,159.0 243.8,158.0 250.0,151.0 254.5,148.8 258.8,150.0 265.0,158.0 270.0,151.5 287.5,151.0 300.0,147.5 332.0,137.5 343.8,132.5 372.5,127.5 387.5,125.0 390.0,120.0 398.8,111.2 407.5,113.8 416.5,111.6 421.2,114.5 423.0,126.7 424.0,137.2 431.5,137.2 434.5,149.0 437.4,155.8 447.2,151.9 451.1,153.8 456.0,166.6 458.0,173.4 466.8,166.6 469.7,167.5 472.6,178.3 474.6,186.1 478.5,184.5 499.0,187.0 503.0,186.0 504.0,183.0 505.0,187.5 506.5,200.0 519.0,208.0 524.0,217.5 539.0,232.5 551.5,247.5 554.0,249.0 558.5,244.4 567.3,233.6 569.3,232.2 571.0,234.0 576.0,231.0 580.0,227.7 581.6,230.7 583.0,250.2 585.0,264.0 587.9,275.7 590.8,282.5 591.8,283.5 585.9,288.4 576.1,281.6 564.4,282.5 554.6,292.3 544.0,295.5 529.0,300.0 516.5,310.0 506.5,320.0 497.8,326.0 490.0,317.5 484.0,313.8 469.0,325.0 454.0,333.0 429.0,332.0 419.0,336.0 404.0,334.5 387.0,333.8 374.5,335.0 368.2,328.8 363.2,323.0 357.0,332.5 352.0,340.0 347.0,335.0 342.0,334.5 332.0,337.5 322.0,345.0 314.5,360.0 304.5,368.8 294.5,372.5 284.5,375.0 275.8,372.5 269.5,376.0 256.8,381.5 248.0,372.0 240.0,360.0 232.0,347.5 222.5,332.5 217.5,325.0 211.2,352.5 205.0,322.5 201.2,307.5 196.0,320.0 190.0,315.0 185.0,312.5 182.5,320.0 178.8,305.5 176.0,308.8 172.5,300.0 170.0,302.5 165.0,292.5 160.0,282.5 156.2,267.5 153.8,278.8 150.5,271.0 148.0,280.0 146.2,272.5 142.5,291.0 138.0,268.8 135.0,275.0 131.2,256.0 126.0,269.0 120.0,271.0 113.8,267.5 108.8,253.8 104.0,257.0 100.0,260.0 87.5,240.0 75.0,228.0 63.3,217.5" fill="url(#m1)"/>
<path clip-path="url(#surfc)" d="M218.6 225.1L223.8 224.7L226.1 223.6L228.4 222.0L230.5 220.8M438.5 321.3L436.6 323.5L434.0 323.8M427.2 198.9L430.7 200.5L432.5 202.0M309.8 208.4L313.3 209.8L317.4 211.6M401.5 327.9L401.1 331.1L402.6 333.9L404.2 337.3M383.7 211.1L380.7 211.1L375.7 212.3M392.5 337.0L396.1 336.9L400.9 336.8L402.8 335.3L404.3 332.3M238.1 341.4L241.1 342.8L242.7 344.2L244.8 345.7L247.4 346.0L249.8 347.1M241.9 274.4L239.9 276.6L239.4 278.6M331.1 280.8L328.1 282.2L326.8 283.9L327.4 287.0L331.6 288.9M199.2 262.8L202.0 264.3L207.1 264.2L210.2 266.5L211.5 269.0M541.5 292.4L540.1 294.8L538.9 297.2L540.0 301.0L540.8 302.9L541.2 304.8M374.5 265.7L372.6 267.5L370.8 270.3M515.6 237.6L512.8 240.9L510.9 243.4M127.0 237.8L130.2 237.8L132.6 239.7L134.6 243.1M395.3 210.0L392.9 211.6L391.3 213.4M442.5 245.3L438.6 246.6L433.8 246.4L431.0 247.4L427.1 249.5M244.1 294.6L240.4 295.5L237.6 297.8M343.6 324.7L340.0 324.9L337.3 326.0L335.9 328.0L332.6 330.8M456.3 230.8L453.8 231.8L450.2 233.8M307.2 349.2L311.6 351.4L313.6 353.7L313.9 355.6L317.6 358.5M202.9 325.5L202.5 328.5L202.3 332.2L204.5 334.7M234.0 354.7L230.4 357.4L227.3 360.3M400.3 188.1L402.5 186.0L402.5 182.4L401.4 179.8L400.7 176.1M385.6 331.5L385.5 333.3L385.7 335.4L389.7 337.4M231.5 294.4L229.9 297.0L227.6 300.0M224.2 313.6L226.9 313.5L229.5 313.3L231.8 314.3L237.0 315.3M324.1 207.2L328.9 208.3L330.4 210.4L332.2 213.9M388.3 172.5L390.6 171.0L391.8 169.2L396.2 167.0M369.9 232.3L369.7 234.5L366.9 236.1L362.7 238.6M391.4 178.1L393.6 176.9L395.8 174.9L398.3 172.3M310.1 280.5L315.2 281.3L320.2 280.4M164.3 270.6L162.1 271.9L158.7 274.7L155.5 275.3M295.0 357.9L296.3 359.5L297.0 362.1L301.3 364.3L304.5 366.9M263.6 356.1L267.1 356.4L272.2 357.2M194.7 226.0L196.3 224.2L200.6 223.5L203.6 223.1M356.2 296.6L355.8 298.4L358.4 300.5M508.4 222.7L513.3 222.9L517.3 222.8L520.5 224.1L524.4 225.8L524.9 228.2M491.2 264.0L486.0 265.0L483.6 264.4L479.2 262.5L476.8 261.7L474.2 259.9M422.0 330.0L423.5 331.9L425.5 333.0L428.7 333.9L429.7 336.2M251.0 364.3L254.6 363.7L258.4 363.0L261.2 361.0M136.3 276.9L139.6 278.0L144.0 278.2L148.2 275.9L151.1 275.8L154.9 277.9M421.3 294.5L421.0 297.8L420.2 299.5L416.0 301.7L411.7 303.1L408.9 302.8M354.5 265.1L350.3 264.9L347.1 262.7M359.8 204.4L362.9 202.8L363.3 201.1M308.6 222.6L311.1 222.0L314.4 222.2M159.8 270.4L158.8 273.4L158.0 276.9L160.9 279.9M179.0 205.0L182.8 203.0L185.1 200.6L184.3 198.8L181.3 196.4M439.4 273.3L441.9 275.3L447.0 275.9L452.1 274.5L454.4 275.2M383.8 315.2L381.2 313.4L381.0 309.6L379.0 308.3L377.9 306.1L375.4 303.7M349.3 219.1L354.4 218.6L357.0 218.3L359.0 215.9L360.4 213.7M197.3 277.2L202.1 277.5L204.2 278.8L204.7 282.1L202.7 284.0M284.0 262.7L280.3 263.4L278.2 264.5M266.3 351.6L269.3 352.6L272.1 353.5L277.3 354.4M525.0 273.1L523.1 274.4L519.5 275.3L515.1 274.9M179.3 205.7L181.8 204.2L186.1 203.4L189.0 202.5L193.1 201.1M242.4 324.0L246.0 324.9L250.8 325.0L254.9 324.7L257.5 323.5L260.6 322.5M351.8 322.5L353.5 324.8L356.0 327.1M275.3 253.5L278.7 254.3L282.0 256.0L283.8 259.3L288.5 260.9M331.5 298.8L329.4 302.1L330.6 303.8L330.9 307.4L331.4 310.3M159.1 298.4L156.5 297.1L153.5 297.2L149.0 297.4L145.6 295.2L143.1 292.3M340.3 278.4L345.2 277.1L348.6 276.9L351.0 275.3M424.3 281.8L429.6 281.8L432.4 280.6M329.3 140.8L325.7 142.6L321.8 142.4L318.8 143.3L314.6 142.0M177.2 195.8L179.8 193.8L181.7 191.4L185.2 189.2L187.3 187.1M142.4 281.5L139.6 284.7L138.5 288.1M203.1 247.5L208.1 248.5L213.1 249.4L216.8 247.8L219.4 248.2L222.8 246.4M352.1 304.7L353.5 308.1L352.7 312.0L349.9 313.4L348.1 316.9L346.2 318.2M379.2 232.2L380.6 234.0L383.2 234.6L388.3 235.2L392.9 236.1M349.5 316.0L354.0 316.7L357.9 315.8L361.1 314.8L365.0 314.9L368.1 315.4M371.0 240.1L375.8 241.5L380.6 241.4L383.3 242.9L388.5 243.9L391.4 245.0M385.0 217.1L386.3 220.0L385.0 223.6M252.8 354.0L254.3 356.3L257.2 358.0L261.3 360.4L266.1 360.8L270.4 362.6M455.3 256.0L458.0 258.7L459.8 261.3L461.5 263.0L464.7 265.1M347.3 275.1L349.3 278.6L351.3 280.0L355.3 280.1L358.8 281.2L362.5 281.1M415.0 280.0L411.8 280.7L409.2 282.1M218.9 252.2L220.7 253.8L220.5 256.8L221.5 259.3M512.0 220.3L515.0 223.5L518.7 224.3M507.5 283.1L504.6 282.2L500.6 283.4M397.2 184.8L401.7 184.7L404.3 182.2L407.4 180.9L408.0 178.5M271.6 378.2L275.4 380.4L278.5 381.7L280.6 383.0M188.1 311.3L190.7 313.2L193.5 315.6L196.4 315.9L199.7 317.2L203.1 317.4M463.4 193.6L463.3 195.4L460.8 198.3L458.2 200.1L455.1 203.2M256.9 215.5L259.7 214.9L261.4 212.3L264.6 209.4L264.3 206.3M303.3 279.9L306.3 279.6L308.5 277.5L312.8 276.0L316.2 276.1M362.2 151.1L364.9 148.4L369.2 146.4L374.0 145.2L378.3 144.8L381.3 143.1M270.5 176.8L273.6 174.3L276.2 174.1L281.0 174.0M245.6 358.2L249.5 359.5L253.2 359.8L256.9 360.5L260.2 361.9L262.5 362.7M383.8 253.7L384.9 257.1L386.0 258.8L388.2 260.8L388.7 263.6L388.2 265.4M289.0 360.1L293.0 360.6L298.3 360.5M281.3 351.2L276.7 353.2L272.2 355.3M420.2 170.7L415.9 170.9L412.9 172.1M448.4 311.3L449.1 314.9L451.1 316.8L453.1 318.7L456.2 318.9M301.5 358.9L301.7 362.3L304.4 364.5L306.0 366.7L305.2 369.6L303.5 373.0M290.8 371.5L288.1 373.2L286.1 375.3L286.1 377.7L288.4 379.3L291.3 382.5M280.4 288.8L281.2 292.0L283.4 293.9L285.0 296.3L286.7 297.7M360.9 284.1L363.5 282.4L363.9 280.0M267.6 305.5L267.4 309.0L268.8 310.5L269.0 313.7M238.8 193.6L241.3 194.3L244.3 197.2L246.1 199.9L247.2 202.7M278.5 211.6L279.6 209.9L281.7 208.8L286.3 206.9M168.7 252.0L171.4 251.7L176.8 252.0L180.3 253.2M336.4 243.9L340.0 245.7L345.5 245.8L349.6 244.6L352.1 241.4L357.1 240.3M172.7 208.9L177.4 207.1L180.1 207.5L183.0 208.0L185.9 210.8M180.0 238.4L184.2 236.4L189.6 237.1L192.5 239.1M341.7 274.0L346.4 273.6L349.8 273.7M269.9 312.2L272.3 311.6L274.7 308.2L275.2 306.2M90.8 228.6L93.4 226.2L95.4 223.1M515.3 289.6L518.0 288.6L519.0 286.9L523.1 285.0L527.8 283.9L531.2 283.7M130.6 235.5L132.9 233.6L135.6 233.5L140.4 234.8L143.2 237.2L145.5 238.9M475.1 283.4L479.6 282.9L482.7 282.6M384.1 160.4L386.5 157.5L385.4 155.1L381.5 153.4M528.5 298.7L527.2 300.6L522.7 302.6L521.3 304.5L516.6 305.4M419.7 334.1L418.3 336.4L417.4 338.9M392.3 156.6L395.6 154.8L397.4 151.2L400.3 148.1L399.8 145.1M427.0 263.8L432.0 264.3L436.2 264.4L439.9 263.7L443.2 263.9M225.7 266.9L224.2 268.9L220.3 271.0L216.0 272.4M541.5 252.5L542.5 254.8L546.6 257.4L547.8 259.1L546.7 261.0M383.1 343.4L380.9 344.9L378.5 345.9L376.6 348.1L377.7 350.5M475.3 266.2L475.5 268.2L475.0 270.8L472.3 273.9L470.5 276.6M415.4 230.8L417.6 233.4L419.6 235.4L420.6 237.2M364.8 314.0L364.0 316.6L363.4 319.6L363.5 322.8M429.0 172.8L424.4 174.5L423.2 176.7L423.8 179.9L421.9 181.6L419.9 184.8M275.2 222.6L279.0 222.6L281.2 224.2L282.7 226.5L282.6 228.5M482.1 197.7L484.8 197.6L488.5 195.0L492.3 193.2L494.9 192.4M262.4 270.5L258.4 268.0L256.1 266.7L255.7 264.8M387.1 187.5L386.3 190.5L382.9 193.0L380.7 194.8M287.7 198.1L291.9 199.3L293.4 202.3L295.2 205.5L294.6 208.0M364.9 223.7L364.0 226.2L359.7 228.1M250.4 355.0L246.9 355.6L242.5 355.9L240.3 357.0M294.7 302.4L295.9 305.0L295.3 307.1L295.2 310.0M413.6 283.0L408.6 282.1L404.9 279.7M276.3 323.4L275.2 325.2L276.3 327.7L275.1 330.4L273.5 332.9L269.3 334.2M195.9 235.2L192.8 236.9L188.9 238.5L185.3 238.3M391.3 337.1L393.6 338.0L397.2 340.0L397.6 342.4L394.8 344.5M404.1 322.8L407.4 323.6L409.4 325.7L411.8 328.0L412.3 330.1L413.2 332.7M416.6 306.9L419.6 308.8L423.4 309.7L425.0 312.6L424.5 315.0L425.1 317.4M397.3 277.8L394.6 280.0L392.5 282.6M233.4 209.0L237.6 210.1L241.0 212.8L243.1 215.5L244.4 218.6L244.8 221.8M277.3 318.4L279.6 319.8L284.4 319.4L288.0 321.3M354.0 324.2L350.9 324.3L349.3 325.6L346.1 327.6L342.1 327.6M405.7 309.7L401.3 311.7L399.3 312.8L396.5 315.1L391.1 315.4L387.4 315.8M236.7 325.9L239.0 328.0L243.5 328.0L246.7 330.8M176.2 229.2L179.2 229.6L183.1 227.6L188.1 226.8L190.8 227.2L195.0 228.5M401.2 329.5L402.1 331.2L406.3 332.1M366.1 162.1L364.9 165.5L363.5 167.7L359.1 168.8M271.1 214.1L274.7 214.9L279.5 215.2L282.5 217.9M330.1 227.5L333.2 230.0L336.1 229.9L339.7 231.6L340.1 233.8M286.0 258.6L282.7 259.0L281.1 261.0L279.5 263.8M513.5 289.5L517.5 291.8L519.7 293.5L520.3 296.9M473.5 305.5L475.0 308.1L477.9 310.8M496.1 310.6L497.2 313.2L499.5 314.8M477.3 283.3L477.5 285.7L480.3 287.5M308.2 226.3L304.6 227.9L303.3 229.8L303.8 233.0L305.4 235.7M316.1 278.7L317.5 281.3L316.3 283.7M248.1 196.7L249.3 194.7L252.9 193.3M320.6 211.7L325.5 211.3L328.0 212.8L331.1 212.5L333.2 211.3L333.5 208.4M462.7 224.7L458.8 223.3L457.3 220.2M175.5 277.9L175.6 281.1L176.4 283.7M305.3 362.8L301.0 364.9L298.3 364.6L295.8 364.1M441.2 187.6L443.2 189.1L444.8 192.6L444.7 195.0L443.8 198.3L445.6 200.4M189.9 226.0L194.9 226.9L200.0 227.7L202.2 229.1M370.8 160.2L374.6 162.7L376.9 163.6L382.1 162.7L384.9 161.5L386.0 159.2M328.3 316.3L330.6 317.5L331.4 319.8L332.5 321.7L336.2 324.1L338.9 325.0M309.7 239.1L307.3 241.4L303.6 243.6M498.5 234.5L496.7 236.3L494.7 239.8M580.1 276.7L583.1 277.1L587.0 279.7L591.4 280.0L595.5 280.0M339.5 257.1L338.2 259.6L335.4 260.7L332.7 261.4L329.8 264.1M358.8 196.5L361.7 197.1L365.9 195.9L369.0 195.6L371.2 194.8L375.2 194.4M526.2 290.8L527.4 294.2L525.8 296.7L528.1 300.0L530.5 303.2M207.3 237.5L211.9 236.0L216.1 233.7L218.8 234.0L222.0 233.9M522.0 291.4L517.6 293.3L515.9 294.9L512.6 296.2L511.6 299.6L513.0 301.6M228.0 323.7L233.0 323.9L235.0 322.6L237.8 321.7L239.0 318.8M375.4 262.8L374.4 264.6L375.1 266.8M348.6 282.6L348.1 285.2L350.2 287.8M397.7 172.5L395.5 173.4L391.1 174.3L386.8 174.7M264.6 375.3L267.8 375.0L271.3 373.9L275.7 375.4L277.6 378.6M368.8 152.7L370.2 155.2L370.8 157.7L371.1 159.5L371.9 162.3M114.4 252.0L109.5 251.5L106.1 248.8L101.7 248.8L97.5 250.1L94.8 252.2M508.3 243.3L512.5 245.6L515.8 246.3M319.7 187.5L321.6 190.2L320.4 192.8L318.6 196.2L314.9 197.5M308.9 321.8L304.6 322.5L300.2 322.7L296.4 324.6L293.2 326.4M378.2 251.2L380.6 252.6L384.5 255.2L389.0 257.2M304.2 360.8L306.0 362.8L304.9 365.1L302.8 366.5L302.7 370.1M234.7 194.2L240.2 194.0L245.3 195.0M345.9 298.8L349.9 301.0L351.3 303.7L350.9 307.0M428.5 238.0L426.6 239.4L424.4 241.9L424.8 244.4M442.4 160.2L446.0 159.2L450.1 157.7M257.0 270.0L256.0 271.6L251.7 274.0L249.6 275.9L246.3 278.5L244.2 280.5M308.0 337.3L307.1 339.4L306.3 343.0L308.0 344.4M367.1 260.1L361.7 260.8L357.7 261.2L354.1 260.7L349.8 261.0M366.8 342.1L367.4 344.6L368.8 347.3L369.9 350.8M499.1 220.0L498.4 223.2L500.3 225.3L502.3 226.6L505.1 227.5M360.4 219.3L361.5 222.1L360.5 224.2L357.3 225.5L356.4 228.4L358.3 231.0M426.5 285.6L423.4 286.6L420.9 286.8M335.4 333.0L336.5 335.7L337.1 338.0M400.4 257.2L397.6 257.6L394.2 259.9L394.0 261.9M239.3 301.9L236.7 301.9L233.6 304.5L231.9 307.5L231.6 309.6L232.4 311.5M495.0 239.8L495.7 241.5L498.2 243.4L498.9 245.1L501.8 246.2L504.7 246.2M311.9 204.1L316.0 203.1L319.5 204.5L320.4 206.6L322.5 209.5L325.3 210.9M468.8 228.2L468.3 230.3L468.4 232.0L466.2 234.1M270.1 254.3L267.8 255.3L266.3 258.6L266.1 260.9L267.8 262.9M158.4 206.6L159.3 204.3L161.5 203.1L165.1 200.6M381.7 180.3L382.7 183.2L384.9 185.5L389.4 187.0L393.3 189.6L392.9 192.5M402.8 338.8L401.9 340.8L399.5 342.0L396.1 343.5L393.4 346.4L391.8 349.3M334.0 230.5L334.0 233.9L335.4 235.8M387.6 152.2L384.5 154.6L384.5 156.9L382.4 159.1L380.9 162.4M355.4 288.6L352.6 289.4L348.6 291.4L343.6 292.4M220.4 341.5L222.1 344.3L224.4 345.5L225.4 348.7L225.0 350.5L226.8 352.2M208.7 264.9L209.9 267.8L207.8 270.4M254.2 292.7L252.7 295.5L250.1 296.3L245.7 296.1L242.0 293.6L239.3 291.0M534.7 246.8L539.5 245.4L542.2 245.5L545.6 246.5L549.0 249.1M189.3 216.2L193.8 216.5L197.8 215.1L202.6 215.7L205.6 216.0L208.4 218.9M302.8 207.0L305.5 208.3L309.0 207.8L311.9 207.0M210.8 223.4L211.7 220.3L209.7 217.5L209.3 215.5M430.2 259.4L433.4 261.9L437.7 262.7M372.1 251.4L371.6 253.7L372.0 255.9L374.6 257.4M277.7 324.6L280.3 326.5L282.4 328.4M269.1 178.6L272.6 180.8L272.6 183.7L275.1 185.9L277.3 187.3L279.0 188.7M510.5 247.0L508.8 248.5L506.5 249.3L504.1 250.5L500.6 253.4M417.4 318.6L413.0 320.2L409.5 320.3M292.7 342.4L297.6 343.6L299.5 345.5L302.3 345.8L306.3 348.2M496.1 203.8L500.1 204.2L503.1 203.1L505.7 202.5M343.5 192.4L340.3 195.2L338.4 197.0M202.7 192.7L203.5 194.5L207.6 196.0L208.6 197.7L213.8 198.8L218.3 197.9M193.4 182.2L195.3 180.2L198.0 176.9L202.9 175.8L207.5 177.8L211.1 180.2M227.7 334.4L226.1 336.8L225.1 339.8L227.2 343.1L228.8 345.9M410.1 188.1L414.8 186.4L417.3 184.9L419.5 183.3L420.9 179.6M287.2 330.6L288.9 332.4L290.3 335.5L293.0 337.4L296.0 339.8M489.9 300.1L487.4 303.0L487.9 305.8L488.4 309.3L485.6 311.6L481.6 311.8M363.2 297.1L362.0 300.4L363.9 303.5L366.9 304.3M196.4 187.3L200.7 185.3L205.5 184.1L210.6 183.2M405.7 175.7L408.2 176.7L412.8 177.6M532.4 254.9L535.8 253.3L538.7 253.2L542.0 255.3L545.0 255.9M382.4 318.7L379.7 320.7L379.6 323.0M297.0 359.3L292.9 358.7L287.5 359.6L284.3 359.1L281.8 358.9L279.7 356.5M239.9 181.8L244.8 183.4L247.6 185.3L252.7 186.4L256.1 187.2L259.3 188.0M243.1 320.3L244.8 322.5L247.6 325.7L250.3 327.2L252.8 328.6M321.9 342.8L319.9 344.3L318.5 345.9L314.9 346.3M384.7 271.9L386.7 275.3L389.5 276.3M333.3 284.3L335.5 286.0L336.0 288.0L340.5 290.2L343.9 290.9M416.5 191.7L415.2 194.0L414.9 197.8L414.8 200.3L416.1 202.3M223.5 219.5L227.2 219.1L232.2 220.4L234.7 221.3L236.8 223.1L239.1 225.8M414.1 146.3L417.6 146.9L422.9 147.6L426.9 149.3M541.7 272.9L544.4 274.2L547.3 273.7L550.9 271.7M233.7 278.6L234.9 281.6L238.4 283.8L238.4 286.8L241.8 289.3M442.9 205.8L447.4 205.9L449.6 204.1L449.2 201.7M366.9 143.4L369.4 141.4L369.0 138.4L367.5 135.8M333.4 218.4L336.2 219.8L338.4 221.6M352.0 304.7L351.1 306.7L352.6 309.9L356.9 311.6M326.7 279.8L324.4 282.4L323.2 285.6L324.1 288.8M479.0 280.0L480.6 282.2L482.1 284.3L485.3 286.2L490.2 286.1L492.2 287.6M371.4 239.2L368.6 238.9L365.6 238.4M394.0 201.5L389.5 203.2L384.7 202.8L381.2 202.3M405.8 237.7L402.3 238.2L398.7 237.3L393.5 237.2M252.8 337.5L255.8 338.8L259.5 338.9L262.1 340.6L264.6 343.7L267.2 344.0M367.6 205.0L371.8 202.5L373.3 199.7L371.9 196.3L373.2 194.2M482.2 287.3L487.3 287.3L490.4 286.2L495.6 285.3L497.5 284.0M496.8 288.1L492.0 289.2L488.8 292.0M474.5 187.1L478.9 185.2L480.2 182.9M320.0 243.5L317.5 244.4L313.7 246.9L308.8 248.1L306.6 247.2L301.7 247.1M310.8 163.8L313.5 163.9L315.4 165.2M287.5 366.5L285.8 368.3L283.1 370.8L279.4 373.6L275.8 376.1L273.1 376.0M560.1 270.2L557.0 269.4L553.8 270.0L552.5 271.6M332.5 251.9L333.3 254.3L336.7 255.6L340.2 255.9L345.7 255.7M385.1 206.2L386.4 208.1L386.4 211.7L383.6 214.7L381.3 216.3L377.3 219.0M448.5 280.6L445.8 280.0L443.5 279.2L441.1 277.2M396.0 287.4L397.1 290.3L398.5 293.3L399.7 295.6L400.7 298.0M502.0 276.1L498.3 276.2L494.0 276.1L490.7 275.3L487.2 273.7M272.1 309.7L272.4 312.2L272.1 315.1L269.9 316.2L266.3 316.6L264.0 317.9M329.7 304.5L335.0 304.1L338.8 305.7L339.8 308.1L342.5 311.1L344.8 313.2M391.4 228.0L392.7 229.7L396.3 232.6L397.6 235.2L399.4 238.4M364.1 182.9L368.1 182.8L371.0 183.9L373.1 184.8M280.6 303.1L280.2 305.4L281.2 307.9L282.1 310.7L284.5 311.8M460.9 189.4L457.4 190.1L455.3 193.1M491.1 211.0L490.8 213.5L489.7 217.1L491.5 220.7L491.3 223.2M370.4 224.2L374.5 224.2L379.7 224.2L382.0 225.0L385.1 226.6L389.4 228.5M312.7 271.0L310.2 272.0L307.7 272.2L305.1 273.3L300.4 275.0L298.1 276.9M301.2 271.6L303.5 272.3L308.1 273.7M242.6 287.3L238.7 287.8L236.1 290.4L234.3 293.1M563.9 262.7L561.6 264.2L558.5 263.9L554.6 263.3M186.7 288.8L184.3 291.1L183.1 292.8L182.5 296.3L179.4 299.1M207.7 241.4L212.3 241.0L216.2 238.5L218.2 236.2L221.8 234.3L224.2 233.8M272.4 369.9L269.6 372.7L268.5 375.8M462.7 250.9L464.6 252.6L469.5 253.8L472.2 253.0L476.9 254.2L479.3 254.7M458.8 278.9L461.9 281.2L464.7 282.2L466.1 284.0M430.1 178.5L434.5 177.9L438.7 175.7M340.8 190.9L342.5 189.0L344.7 187.2L346.9 185.7L350.3 185.7L352.8 186.8M521.7 302.9L523.5 304.5L527.3 306.1M353.3 198.5L355.5 195.3L354.4 191.7L357.7 188.8L359.9 187.1L362.0 184.1M412.8 325.7L416.2 325.5L421.0 325.7L424.4 324.4L429.2 324.3L432.4 326.3M292.4 297.7L297.7 297.9L300.2 298.5M281.1 275.3L285.9 275.9L288.6 275.6L291.4 275.5L296.2 275.6M371.1 251.7L375.7 251.6L380.6 250.9M241.3 339.8L240.5 343.5L241.3 347.0L239.4 349.4L239.7 351.3M396.5 164.5L398.6 162.0L397.6 159.8L399.3 157.7L402.4 154.6L407.0 153.9M308.7 221.4L311.8 220.8L314.7 221.1L317.2 220.6M313.2 279.7L317.4 280.2L321.5 279.3M475.7 269.2L478.6 267.9L479.5 265.8L481.6 264.3M195.2 212.7L198.8 213.3L201.6 213.5L205.9 212.3L208.9 212.2M223.0 221.0L227.3 222.5L230.9 223.7M504.3 295.7L503.2 298.7L499.5 300.8M245.1 336.9L244.8 339.7L242.7 342.0L242.1 345.2M186.1 205.1L187.2 208.5L185.7 211.9L186.1 215.7M427.0 324.4L430.4 327.0L434.4 328.0L439.1 329.6L443.4 331.6M381.8 147.8L385.2 148.8L389.4 147.8L392.8 148.5L397.3 150.0M332.3 142.4L335.4 140.3L337.9 138.6L338.7 136.1L342.0 134.1L343.3 132.4M302.3 317.4L305.8 319.5L310.7 319.1L313.3 317.6M474.5 201.3L477.7 202.2L480.2 205.1L481.9 208.5L480.1 210.7L482.0 214.0M165.6 264.1L169.0 266.4L170.4 269.4M265.0 337.6L269.4 337.7L274.7 337.4L279.0 336.5L282.6 336.3L287.1 336.1M481.9 227.2L486.6 228.4L489.9 230.2M369.4 307.1L368.1 309.4L369.4 313.0L368.2 314.9L365.8 317.3L366.6 319.8M452.3 263.2L455.9 264.6L461.0 266.0L465.0 268.0M383.6 231.4L380.4 230.9L376.5 232.0L371.7 231.3L368.8 231.4M411.6 317.1L415.1 319.9L418.0 323.0L418.3 325.5M368.5 211.8L366.4 213.7L364.8 215.4L364.3 217.9L364.7 221.7L366.1 223.6M474.1 219.8L470.6 219.8L466.8 221.8L463.5 223.7M444.3 285.8L445.4 288.3L444.2 291.7L445.8 294.2L449.8 294.9M376.7 217.1L377.0 219.3L380.2 221.2L382.0 224.1L384.7 227.0M180.4 273.9L177.4 275.4L172.7 274.9M273.7 265.6L269.1 265.4L265.2 267.3L261.3 269.8L260.0 271.8M474.1 307.2L477.1 309.5L479.2 311.7M328.7 223.7L326.7 226.5L323.6 228.2L318.4 228.0M479.1 287.9L480.0 291.1L479.2 294.1L479.8 295.9L480.1 299.4M215.4 241.9L219.7 240.6L221.7 237.4M174.9 187.0L178.9 188.1L181.1 189.1M352.9 258.2L352.2 260.7L352.7 263.6L355.6 266.3L360.2 267.8M455.6 242.4L458.5 240.5L460.2 239.0L463.9 237.0M356.6 243.3L358.8 246.5L356.7 249.6L353.4 250.4L351.1 249.3L348.6 248.3M360.7 297.2L360.3 300.3L361.9 302.0L362.3 303.9L360.9 305.4L356.6 307.0M471.8 281.6L474.3 284.9L473.1 288.0L471.4 289.5L471.1 291.3M504.1 263.1L502.0 265.7L499.9 267.7L498.9 269.5L495.6 271.8M218.1 187.2L218.2 189.3L216.4 191.7L211.3 192.5L207.6 191.7M380.1 172.4L383.9 170.8L386.9 171.3L391.8 170.8M396.9 303.4L392.1 304.4L390.6 305.9L390.2 308.8M195.9 184.4L192.8 184.4L187.6 184.0L185.0 182.4L182.5 180.3L181.3 176.8M124.6 265.9L125.4 267.8L128.3 269.7M397.3 278.1L393.5 279.4L388.4 279.6L384.9 281.5L379.4 281.5L375.8 280.4M491.2 245.4L493.4 246.3L498.9 246.7L502.3 245.6L507.2 246.0L511.6 247.1M108.9 240.5L105.2 240.9L101.0 238.6M341.7 157.2L343.1 155.8L345.6 154.8M538.9 250.9L541.3 252.6L545.0 255.3L549.3 257.4M101.3 221.0L105.8 221.4L109.4 222.3M413.2 259.0L414.8 262.3L415.9 264.2L416.3 266.3M244.1 206.5L245.4 204.4L250.3 202.8M166.7 270.4L170.7 271.4L172.5 274.5L175.1 275.1L179.3 273.9M382.4 260.2L379.9 262.6L379.4 265.9L378.0 267.5L378.8 269.3L378.3 272.5M289.0 358.2L287.1 361.7L285.9 364.8M226.5 259.2L228.4 260.8L233.5 261.8L236.8 263.3L240.2 265.6M398.1 215.4L396.3 216.7L394.7 220.1M455.8 199.4L450.9 199.5L448.1 199.4L445.3 198.0M364.6 234.0L366.5 236.5L367.4 239.4L365.4 241.6L361.0 242.4L358.7 241.3M210.4 260.9L206.6 260.6L202.2 262.7M402.1 272.6L403.9 274.5L406.1 275.4L408.1 277.1L412.9 278.8M409.2 266.2L406.7 267.8L406.5 269.6M158.4 292.2L161.3 294.6L164.7 297.3M478.0 218.6L475.1 220.3L471.5 221.1L468.7 221.0L466.4 219.1M356.3 147.9L359.4 148.6L362.0 147.4L365.0 147.8L368.8 149.1M338.4 198.3L341.0 197.7L343.6 197.3L346.4 196.1L351.6 196.9L355.7 196.8M214.0 277.9L212.1 280.4L212.7 282.6L211.6 284.8L211.0 288.1M194.9 243.0L196.6 241.8L196.7 239.2L196.1 236.9L195.1 234.2L191.7 232.5M326.3 253.0L323.9 255.0L324.2 257.2L326.1 259.5M229.3 266.8L232.4 267.2L237.5 268.5L239.1 270.8M186.4 298.9L189.8 299.4L193.2 298.0L197.7 296.0M368.6 176.6L372.0 175.9L375.0 172.7L376.5 170.9L375.1 167.9M247.7 176.6L245.9 179.5L246.8 182.0L249.1 185.2M189.0 200.3L191.0 198.0L194.1 196.4L197.5 196.4M559.7 267.9L562.1 271.2L564.8 273.7L570.1 273.9L573.7 272.8M420.6 326.6L420.0 328.8L417.8 330.3L414.0 330.0M326.9 355.8L330.3 356.9L333.2 359.0L334.1 361.2L333.2 363.1L329.8 365.0M345.6 276.2L347.7 277.5L347.7 279.6L350.2 281.9L352.7 285.0M147.5 266.6L150.6 264.5L151.5 262.6L155.2 259.8L157.7 259.0L161.9 257.1M566.7 277.0L569.1 279.0L572.1 281.9L572.4 285.0M273.7 199.7L278.4 201.6L281.1 201.5L284.4 203.3L289.0 203.6M214.6 247.8L217.2 248.2L219.8 249.4M355.0 340.8L354.3 344.0L353.1 345.9L348.5 347.0L345.9 349.0M443.6 174.7L445.9 177.5L448.5 179.6L453.1 181.7M453.2 305.4L455.4 308.0L456.4 310.7L457.6 313.0M332.3 238.6L331.4 241.3L334.1 243.8L337.5 244.6L339.5 247.7M482.0 254.8L481.0 258.3L479.7 260.2L481.0 262.7M444.9 288.2L448.4 289.0L450.8 289.7M500.1 284.7L502.7 283.4L505.0 280.6L507.5 280.3M285.5 363.2L282.8 363.5L279.7 364.5L274.6 364.4M357.7 341.2L362.0 341.5L365.0 342.5L367.6 345.2L370.7 347.0M309.5 355.4L306.5 358.2L304.9 360.3M149.5 283.8L153.3 282.4L155.5 279.5L159.8 277.9L161.3 276.2L164.5 274.3M165.9 251.1L169.7 251.9L173.0 252.6L175.9 251.6M188.4 314.6L191.8 317.4L195.0 318.2L197.7 319.6L200.8 319.6L205.2 321.3M490.7 308.2L488.0 310.3L486.1 313.4L485.9 315.8L486.7 318.0M258.8 316.7L261.5 317.2L265.5 317.9M335.5 310.6L337.1 312.2L340.0 314.1M291.0 314.7L292.2 318.3L294.0 321.3L295.5 324.5L295.2 326.9M239.3 347.8L244.0 346.5L247.8 347.7L252.1 346.5L253.7 343.6M490.6 255.7L494.8 257.1L498.0 259.5M254.2 368.0L251.5 369.5L247.3 369.8M265.7 233.8L268.6 236.8L271.2 239.1L276.5 239.6L279.2 242.3M256.4 233.3L259.2 234.2L262.2 236.8L261.8 239.6L259.1 241.6L256.6 242.1M400.9 309.2L399.6 312.4L396.1 314.3L393.6 315.0L392.6 317.2M340.2 322.0L340.5 325.7L342.3 329.0M409.3 198.6L410.0 201.2L413.0 204.2L417.5 204.5L421.6 206.3M433.8 316.6L429.3 315.7L425.7 313.3M289.1 312.9L292.7 314.4L297.5 315.2L302.5 315.1L306.8 317.1M294.4 361.3L289.5 362.3L285.1 360.2M329.2 263.9L325.9 264.8L324.7 266.6L320.1 268.3M163.7 292.5L161.5 294.0L159.0 296.0L153.9 297.1L150.3 298.9L146.4 298.7M518.0 261.2L519.3 262.9L520.8 266.3L521.8 268.9L523.9 272.2M345.8 203.0L349.7 204.1L353.8 205.0M113.3 250.0L115.3 246.8L116.8 245.3L118.6 241.8L120.7 240.3M304.9 178.9L309.7 179.2L313.3 176.7L316.3 175.2M520.7 289.6L522.0 292.4L521.2 295.9M366.8 338.0L367.8 341.5L366.9 344.7M243.9 288.6L248.2 288.1L251.7 289.1L254.4 290.4M256.8 276.3L260.1 278.7L261.2 282.3L264.7 284.6L266.9 286.2L267.4 288.4M296.5 349.4L292.2 348.2L289.8 346.6M526.6 292.2L529.4 292.3L533.1 290.0M335.1 189.1L339.7 189.0L341.8 190.7L342.0 193.2L342.6 195.5M381.5 245.5L384.8 245.0L389.5 243.7L393.7 244.0L397.1 244.2M347.1 260.8L348.7 263.0L350.4 264.5L355.0 265.1M324.6 311.7L320.3 313.6L318.0 314.4L314.1 314.3M383.8 296.0L381.7 297.5L377.6 299.1L376.9 302.3L375.2 305.2L374.5 307.6M316.8 214.3L319.1 213.1L324.5 213.5L329.2 214.5M284.4 236.6L285.2 239.4L282.8 242.0M307.8 242.9L312.4 244.1L316.9 242.6L319.4 242.3L322.3 243.4M413.7 327.1L415.9 328.2L417.0 330.1M162.4 213.6L162.2 216.5L160.1 217.8M476.6 215.8L477.8 218.2L482.2 220.0L484.6 222.5L484.0 224.2L485.4 226.0M220.0 342.4L219.0 344.3L219.8 346.8M436.0 174.6L439.2 175.0L444.4 173.9L448.2 175.7L451.3 175.7M202.5 277.2L199.9 279.7L195.1 280.3M423.1 315.0L426.3 317.0L429.6 318.1L431.3 321.5L429.7 324.2L430.4 326.2M338.3 305.2L341.2 306.6L342.8 308.5M332.9 301.6L331.3 305.1L329.7 307.2L328.7 309.4L324.6 311.3L319.6 311.4M541.3 246.2L541.4 248.6L541.0 251.5L537.0 253.7L533.1 253.0M360.2 152.7L363.9 152.2L366.2 153.3L367.5 155.0L369.7 156.2M460.0 222.1L460.2 224.8L460.9 226.6L459.8 228.8L461.2 230.9M384.4 191.4L389.2 190.2L393.8 188.4L396.2 187.3L399.1 187.1M312.4 169.0L317.2 167.7L320.3 168.4L324.0 169.2M101.5 239.0L98.5 240.8L94.1 241.9L89.7 244.0M168.9 235.5L170.9 234.0L174.8 233.9L177.7 234.9L178.8 236.9M500.9 243.9L496.9 243.4L494.2 241.6M277.1 362.1L273.9 362.5L269.1 363.3M567.8 280.0L570.8 281.5L573.7 281.5M334.7 268.6L338.7 268.9L340.6 271.0L342.8 272.2L345.3 273.1M503.0 221.2L506.2 223.0L508.6 223.7L511.4 223.3L515.1 221.6M437.8 321.7L435.1 324.8L435.0 328.6L434.1 330.6L434.9 332.7M311.1 316.5L309.6 318.4L310.6 321.1M441.7 286.7L444.2 289.9L442.4 292.9M303.9 148.6L307.0 150.9L309.4 152.8L310.9 155.5L314.2 157.2M574.0 275.3L574.3 277.6L572.0 279.9L570.5 283.6M346.7 304.0L350.8 302.4L352.7 300.8L354.5 297.9L359.7 296.7L363.4 298.3M331.4 195.3L333.3 193.8L333.7 191.7L335.1 188.4L333.8 185.8M381.0 268.4L380.6 270.6L383.2 273.9M243.3 368.7L242.7 371.7L242.6 374.4M267.2 375.4L263.2 375.7L259.8 373.9M150.1 221.1L152.6 219.5L156.6 217.0M192.9 233.5L195.8 235.7L199.6 238.4L201.1 241.6L199.9 244.9L200.3 246.7M197.9 313.5L195.8 314.9L192.4 316.1L189.7 316.5M368.5 131.3L371.5 130.3L373.9 128.8M369.1 224.7L372.5 225.9L375.2 225.6L380.7 225.2L382.8 226.5L385.9 228.2M271.6 320.6L273.6 324.0L272.9 326.7L274.7 329.2L278.8 330.5L281.8 332.6M409.3 138.1L406.3 138.9L402.8 141.7M204.5 234.3L207.0 236.3L209.8 236.2L214.6 237.4M324.5 195.8L321.7 195.5L318.9 196.2M386.3 157.7L389.3 160.0L389.0 162.9L390.8 165.5L392.5 167.6L395.2 169.7M323.0 213.2L326.9 212.0L328.1 209.8L326.6 206.9L325.1 204.6L322.9 201.7M477.6 237.1L477.8 240.4L475.7 242.7L473.2 244.0L470.5 245.6M255.8 263.7L250.4 264.4L245.9 265.4L243.3 267.1M192.2 320.5L197.5 321.4L201.8 322.2L204.0 325.3L206.8 326.8L211.7 326.5M423.1 242.0L422.3 243.8L423.6 246.1L426.2 249.4L428.5 250.7M253.5 320.5L252.1 324.0L249.4 325.5L244.2 325.6L241.1 326.0M414.8 221.2L418.4 221.8L421.3 222.8L424.7 221.7L426.7 220.7M345.5 315.8L346.4 317.9L350.6 319.1M345.2 223.5L349.4 223.9L352.7 224.6L355.7 223.3M411.4 267.6L413.0 270.0L410.7 273.3M132.4 269.5L135.8 267.8L137.6 266.4L142.3 265.4L145.9 263.1L149.9 260.5M175.2 291.4L177.0 294.7L177.9 297.2L177.2 299.1M306.7 325.5L309.3 328.6L309.8 330.4M420.8 175.4L426.0 174.3L428.5 172.2L430.8 170.2L433.8 169.7M446.8 208.3L448.9 209.5L449.2 212.0L452.4 214.3L454.7 216.1M343.9 331.1L348.9 331.8L351.3 331.3L353.9 332.5L356.7 334.0L359.7 334.5M349.3 191.0L347.9 193.0L343.5 193.9M404.2 249.4L404.2 251.2L405.9 253.0L406.1 255.8M457.6 285.2L457.1 288.0L454.8 290.9L455.4 293.2L457.0 295.0M551.1 261.2L546.5 260.8L543.6 261.2L540.0 260.1M297.4 205.9L299.8 206.6L301.9 210.1M379.2 207.7L374.0 206.8L370.4 208.5L369.2 210.2M447.0 228.4L452.1 229.1L454.6 229.0L457.2 228.3M223.3 326.0L226.7 328.1L231.0 329.3L233.9 328.6M517.8 237.1L513.6 235.6L510.8 235.7M497.1 233.4L496.5 236.2L496.9 239.7L494.3 242.9M209.8 257.2L207.4 258.9L207.6 260.9L208.3 264.3M305.5 246.9L306.2 248.9L307.4 252.5L305.9 254.3L302.6 255.6M314.3 361.0L316.3 362.8L318.8 366.0L321.6 367.5M178.8 268.7L178.9 272.2L176.9 274.1L174.3 274.9M374.2 270.9L370.3 273.2L365.8 273.8L362.3 272.8M475.4 311.6L478.5 311.5L481.1 313.1M382.6 242.8L386.6 243.7L390.4 243.0M347.9 254.0L351.9 256.4L354.5 256.7M447.3 251.1L443.6 253.9L440.0 255.6L437.1 255.2M215.0 213.1L212.1 213.6L207.5 214.2L204.3 216.9M375.5 149.7L377.3 148.1L376.1 144.5M205.0 252.0L208.4 249.7L211.0 247.6M134.3 268.3L136.8 266.3L140.7 264.2L145.1 263.5L149.2 263.3L152.3 264.3M520.3 290.7L516.2 291.5L512.3 292.5L509.4 294.6M382.0 157.6L386.2 158.4L390.6 160.2M262.8 206.9L266.4 207.7L269.2 206.3L272.4 204.0M302.0 221.4L305.4 221.2L310.3 221.1M255.0 336.5L258.8 334.5L260.7 332.9L262.6 330.5L263.6 328.6M316.9 233.1L313.2 235.7L311.6 237.6L309.4 240.4L308.2 243.2L306.3 246.4M400.0 280.2L403.6 280.7L406.9 281.7L409.4 282.8M186.1 264.5L182.7 265.5L181.4 268.1M449.0 195.6L451.1 198.7L453.4 201.0M502.5 279.3L504.9 280.0L509.0 281.3L511.3 283.7L512.4 285.4L516.2 288.1M340.6 284.9L343.1 288.3L344.8 291.2M188.6 206.3L193.2 206.1L196.8 204.9L198.7 202.6M287.2 300.3L288.7 302.9L292.3 304.2L295.9 304.6L300.8 304.0M240.9 256.7L243.4 259.2L246.7 260.4L251.6 261.9L254.0 264.9M231.7 309.0L236.4 307.7L238.4 305.9M326.3 205.2L328.5 208.3L332.3 209.8M341.3 251.8L338.0 253.1L334.6 255.3L330.4 256.3L326.7 257.7L324.0 258.6M569.7 286.5L569.6 288.4L568.6 290.2L567.2 292.1L566.2 295.4L563.1 297.0M306.8 297.6L303.0 295.9L300.0 296.0L296.9 295.8M211.1 213.7L212.2 217.0L210.2 219.0L210.6 221.1M557.2 287.4L562.2 286.8L564.5 286.1L567.4 287.0L570.0 286.9L573.4 284.7M374.0 259.4L376.6 259.9L379.0 260.6L381.5 263.4L383.3 266.3M436.3 311.2L434.8 313.0L433.0 315.0L431.8 316.9M428.0 257.3L423.4 259.1L419.2 259.0L414.1 260.0L411.7 260.9M324.0 312.1L318.7 311.8L315.5 310.4L311.3 308.8L308.6 308.4M435.9 298.2L438.9 298.8L441.5 299.9L446.1 300.8M244.1 186.2L242.9 187.9L241.9 189.5M323.8 255.2L321.5 256.4L321.0 259.0L321.7 262.1L322.5 263.8L321.5 265.5M237.6 351.6L238.9 353.2L241.4 353.8L246.3 354.4M485.6 310.9L483.2 311.6L480.4 312.8L477.9 313.5L474.4 314.2L470.9 315.0M250.6 337.8L249.5 340.7L245.2 343.1M336.5 159.3L341.6 159.7L345.7 158.8M267.9 246.2L265.8 248.8L261.8 249.6M495.6 236.5L490.5 237.0L486.2 236.8M265.7 333.9L267.0 337.5L270.1 338.6M380.2 151.5L383.1 150.0L385.1 147.1L387.2 144.4L387.9 141.5M543.5 262.0L538.5 262.9L536.0 261.8L531.5 260.3M461.8 188.8L461.5 190.6L464.1 193.6L469.1 194.0L473.3 195.4M199.3 207.4L199.9 209.4L198.7 212.1M278.1 345.7L275.1 345.4L270.0 346.2L267.3 349.3M328.4 344.7L331.8 347.3L331.4 349.7L328.0 352.5L326.3 355.4L323.0 358.1M326.8 224.6L331.8 225.1L334.0 226.8L335.7 229.7M264.5 342.2L262.1 345.1L257.8 346.0L253.8 345.3L251.1 345.0M251.4 223.2L255.9 222.9L258.0 221.3M460.4 302.4L463.5 303.9L467.7 304.0L471.3 303.9L474.8 303.5L479.3 305.2M186.4 296.2L189.6 297.1L194.7 297.2M388.9 250.5L387.3 253.0L384.7 256.0M219.4 251.6L222.3 252.4L226.6 250.5L232.0 250.7M316.8 302.2L313.2 304.1L311.0 306.4M265.3 279.1L264.9 282.1L266.4 284.2L267.6 285.7L268.1 289.1L270.1 291.6M405.0 318.8L401.1 318.7L398.0 318.9L393.8 317.5L388.6 318.6L386.1 320.5M330.2 286.1L326.6 286.4L324.8 287.8L321.8 289.9L318.2 292.8L316.4 294.9M255.0 220.1L258.1 218.7L262.5 219.8L266.0 218.5L270.0 217.1L272.7 217.3M191.9 212.0L194.3 211.3L196.1 208.4L198.6 206.5L203.5 206.3L206.0 205.5M389.4 283.7L392.9 283.6L396.0 285.1M398.8 225.1L396.3 226.3L392.5 226.4L389.1 225.6L386.4 223.2M378.4 235.5L378.9 238.0L380.7 239.9L380.7 242.8M327.0 295.2L330.1 298.0L330.9 301.2M229.0 242.6L233.0 242.6L237.4 241.8L239.8 242.8L241.5 245.5M445.4 255.4L443.3 257.6L440.0 259.5L438.1 263.1L436.7 266.6M332.8 322.4L329.0 324.4L325.5 325.5L321.0 325.5L317.4 326.9M416.2 289.6L418.5 290.4L423.7 290.7L426.3 289.7L429.0 288.3M318.5 291.9L315.1 293.4L312.2 296.4L308.9 296.8L304.4 296.0M320.7 221.6L318.2 222.9L313.3 223.5M238.0 265.1L236.7 267.8L234.0 268.6L230.5 270.5L228.2 272.8M237.3 201.4L241.4 199.1L245.6 198.7M306.8 242.5L309.0 243.7L310.0 247.2L313.9 248.9L318.0 249.1M430.9 211.4L433.2 214.0L436.7 216.9M276.0 326.8L279.9 326.4L285.0 326.0L288.4 328.0L290.6 329.3M268.4 247.8L267.3 251.4L267.6 254.0L265.2 255.8L260.0 255.8M253.3 302.4L249.4 302.0L247.7 300.1M405.0 215.9L407.6 218.6L411.2 220.5L415.4 222.1M261.6 369.9L263.6 373.1L266.5 375.2L270.4 375.0L273.9 372.4L277.2 371.2M575.4 281.8L570.3 282.1L568.6 283.7M352.7 262.4L350.6 263.4L347.3 263.0L345.0 264.3L340.4 263.5M179.4 235.2L182.9 234.6L186.3 235.8L189.0 237.9M508.5 219.6L508.2 221.6L506.5 223.4M421.8 225.3L419.8 226.7L419.4 230.4L419.8 232.3L417.9 234.9L418.3 237.7M141.8 230.6L142.2 226.9L142.5 223.4L144.4 220.4M396.1 210.6L395.8 213.7L395.7 216.5L398.8 218.5M218.3 269.0L215.7 269.8L212.2 269.7L206.9 269.4M303.4 200.0L307.6 198.4L310.3 197.7M307.1 262.0L307.7 264.0L309.6 265.9L311.2 268.4L313.1 269.9M281.7 213.2L286.5 214.8L290.4 215.0L293.0 214.5M531.5 275.5L532.7 279.0L530.9 281.3L531.4 283.4L529.7 286.6M273.7 256.4L268.3 255.8L265.2 255.7L261.7 254.5L257.7 252.7L256.7 249.4M254.4 330.3L259.2 328.8L262.1 328.7L265.2 327.5L268.4 326.7L272.8 325.1M275.5 328.6L278.7 330.6L282.4 330.7M410.2 274.7L412.2 276.8L416.7 278.3M289.1 204.2L293.8 204.0L298.0 202.7L300.6 200.3L303.3 198.4M508.9 262.3L512.6 263.3L517.3 263.9L519.6 266.0L519.3 268.2M510.2 224.4L505.3 224.8L501.6 227.5L496.7 227.2L492.5 226.8L488.6 228.4M552.2 257.8L557.4 258.8L559.9 257.9L562.6 255.9L566.9 253.5L571.8 253.3M437.7 277.7L440.2 278.2L444.8 279.6M226.2 326.1L222.7 329.0L219.5 330.1L217.8 333.7M320.0 338.4L322.7 340.6L324.2 343.8L321.7 346.9L318.8 349.4M245.1 247.8L242.6 248.5L239.1 248.8L236.3 250.6M443.0 184.7L448.1 184.4L450.3 183.0L451.7 180.3L452.9 177.5M484.7 298.9L485.6 300.8L485.9 304.3M95.4 233.7L98.3 233.7L101.8 235.7M322.5 230.3L326.2 230.2L329.0 228.5L332.3 226.8L335.7 224.3L335.8 221.9M549.4 275.2L545.1 275.6L542.5 277.2M362.6 141.1L366.8 143.1L369.6 143.7L373.0 145.9L376.1 147.1L381.1 146.7M383.1 314.0L383.5 315.9L384.7 317.6L385.0 320.5L384.1 322.9M379.2 274.7L376.7 277.7L376.2 279.6L378.1 283.1M241.6 354.4L241.9 357.3L245.7 359.8L248.7 359.9M427.1 270.4L424.5 270.0L422.1 271.5M371.5 181.5L368.1 184.1L364.1 185.2L359.7 183.7M234.1 361.2L238.5 362.4L243.1 363.6L248.2 364.0L251.7 365.1M416.2 303.2L413.8 306.6L410.7 308.5M253.2 167.7L254.9 171.4L254.9 173.3L256.7 174.7L258.6 176.7L261.9 178.2M269.6 363.4L265.8 364.5L262.0 365.3L256.8 364.0L253.1 364.5L249.3 365.4M424.1 252.5L421.5 251.3L418.9 251.1L416.4 251.8M318.8 232.6L316.5 234.4L312.4 235.7L308.4 235.9L305.1 236.1L302.8 238.3M324.5 203.7L321.4 203.2L317.1 203.3L313.6 202.8L308.7 201.7L303.9 201.3M556.5 276.5L556.4 278.6L555.1 280.1L550.3 281.4L545.5 283.1M230.5 239.2L235.4 237.5L237.0 236.1L240.3 235.9L243.8 236.0L249.1 236.6M555.8 275.5L558.0 276.4L560.6 276.7M102.9 231.1L105.1 228.3L105.7 226.3L102.8 223.0L102.8 220.3M518.5 302.0L515.6 300.7L513.9 298.3L514.1 296.0L515.2 293.1M368.1 163.2L372.3 161.0L374.6 159.5M331.7 288.6L331.1 292.0L330.6 294.0M342.3 285.7L337.9 287.9L337.4 291.4L338.0 293.3M218.2 248.0L220.8 246.6L224.8 244.0L226.4 241.9M271.9 212.7L273.9 215.1L275.9 217.9L279.7 219.0L282.3 219.7M306.9 333.1L302.3 334.0L298.5 334.8M426.4 264.7L424.7 266.7L425.6 269.6L424.1 271.5M319.3 293.0L317.0 295.8L313.4 296.1L310.3 294.5M455.5 302.6L456.7 304.9L459.2 305.8L463.1 305.5L466.9 307.9M318.2 255.0L319.8 258.7L318.5 260.4L315.7 261.9L313.8 263.7L311.4 265.0M433.7 176.2L428.8 175.7L425.2 177.7L425.1 180.9L423.1 182.1M575.1 286.5L571.5 288.9L571.8 292.0L571.2 294.7L570.4 296.6L566.7 298.7M346.0 280.6L346.1 283.0L346.9 284.8L344.1 287.9L341.8 288.7L339.5 289.8M471.5 288.0L469.8 290.3L466.0 291.4M461.0 316.3L464.0 317.6L469.1 316.3L473.4 314.7M460.5 249.5L457.2 251.8L456.2 254.2M369.5 348.1L373.1 349.4L374.5 351.3L376.4 352.5L381.8 353.2L385.4 352.3M441.7 181.4L445.3 179.9L446.0 178.0L445.8 176.0M230.4 341.0L229.5 344.2L226.4 346.4M265.5 302.5L268.0 305.0L271.1 306.7L271.1 309.4L268.2 311.3M411.8 186.5L416.3 187.5L420.6 188.7L425.7 187.3L430.1 187.5M395.6 176.7L400.1 175.3L405.2 175.0L407.6 173.5M218.7 224.0L221.4 224.1L225.9 224.2M454.5 232.3L457.0 233.3L461.2 234.0L465.0 235.5L467.7 237.2L470.2 237.1M517.4 284.5L514.7 283.7L512.0 283.1M441.1 324.3L438.6 325.5L436.6 326.9L434.6 328.8L432.9 331.1L431.4 332.9M399.3 172.8L404.7 172.5L407.2 171.3L409.9 169.4M378.1 219.7L379.5 223.3L383.6 224.6L388.2 226.6M351.8 173.9L353.1 176.2L351.5 178.5L350.2 181.3L345.9 183.6L341.8 184.0M441.6 265.7L438.6 265.0L435.2 263.8L430.3 263.8L426.3 265.5M329.4 256.7L323.9 256.9L321.0 255.8L318.2 253.8L318.3 251.1M195.5 192.3L198.0 191.4L201.7 192.0M499.6 218.1L501.8 219.3L505.9 218.8L508.6 220.2L511.8 221.1M425.9 242.3L424.3 246.0L421.6 247.1M216.2 220.3L220.5 220.2L223.4 221.6M262.7 373.7L260.1 375.3L257.7 377.5M305.1 279.4L308.4 279.7L313.8 280.2L316.4 279.0M357.6 163.1L356.9 165.0L354.0 166.5L350.1 166.6L346.9 164.9M196.4 231.4L201.1 229.9L203.1 227.6L204.4 225.8M333.6 347.2L328.3 348.0L325.7 348.1L323.3 346.9L320.4 346.6M363.9 277.6L366.5 278.8L368.2 281.0L372.3 283.3L375.7 283.0L378.8 282.6M196.6 232.8L195.7 235.6L191.1 237.3M249.9 203.1L254.1 200.8L257.3 198.3L259.0 196.8M284.0 373.9L286.6 373.9L288.6 372.7M382.9 341.5L382.5 343.5L382.0 346.2M482.5 289.6L484.8 290.8L487.4 290.6L491.3 289.2L496.4 290.5M393.4 167.5L390.2 167.1L387.1 166.8L384.9 165.9L380.1 166.5L374.8 165.8M141.7 253.7L146.0 255.7L149.3 257.6M198.3 329.9L199.3 332.0L199.5 333.9M167.7 264.7L164.3 267.7L162.0 269.2L157.9 271.3L155.4 273.3L151.4 275.9M330.9 200.6L332.5 198.0L332.8 195.0L335.2 192.8M350.5 220.8L352.5 222.5L353.4 225.2M251.5 241.2L250.0 242.8L248.1 244.0L243.6 244.2L240.0 245.2M341.0 192.3L341.8 194.2L344.1 195.8L348.5 195.6L353.8 195.9L358.9 196.6M338.4 272.4L343.7 272.6L347.2 272.4L349.3 273.6L353.4 273.2L356.3 272.3M212.7 282.9L213.7 286.0L214.3 287.7L215.8 291.1L216.1 292.9L219.9 295.4M295.8 206.4L294.6 210.1L294.2 213.2M253.1 309.1L257.0 310.1L258.7 312.9M392.5 162.2L396.9 163.2L399.6 166.2L402.1 167.2M260.2 344.8L256.7 346.2L255.4 349.3L257.0 353.0L258.2 356.5L259.0 358.9M434.8 280.8L432.8 282.8L430.8 284.4L429.7 286.8L429.1 290.1M246.8 189.9L251.0 187.8L253.6 187.6M434.2 264.6L434.3 266.7L433.3 268.6L433.4 272.2M370.6 261.8L370.6 265.6L369.4 268.6L369.2 270.9L369.0 272.8L369.6 275.5M248.7 282.4L252.8 284.1L257.7 284.5L262.4 285.2M413.9 194.6L414.8 197.9L415.0 200.2L415.6 203.0L416.3 204.8M133.3 248.4L138.4 247.3L143.3 248.9M273.5 290.5L277.6 290.3L280.5 288.5L282.5 285.0L286.8 283.1M436.6 260.2L439.8 261.6L442.7 263.6L443.5 267.2M178.2 189.2L181.2 188.9L185.1 189.5M405.2 126.6L407.5 123.4L408.8 119.9L407.4 117.6M235.5 291.9L232.9 291.4L228.3 290.7L224.6 291.5M264.8 182.3L266.2 184.7L265.1 187.5L263.2 189.8M404.7 332.7L404.1 334.9L403.4 336.7L403.2 338.6L403.6 342.2L401.1 344.9M514.2 228.0L512.6 230.5L510.2 232.2L505.3 233.1L503.2 235.5L499.3 237.5M428.9 175.5L431.4 177.1L434.1 178.5L436.7 180.0M387.0 236.9L386.4 239.9L386.8 242.9L384.3 244.8L382.8 247.4M314.3 297.6L311.0 300.2L306.2 301.3L301.9 302.4L297.1 302.1M118.6 231.3L116.6 234.6L114.7 238.0L115.6 239.9L116.9 241.5L116.1 243.8M588.1 285.5L591.9 283.2L593.3 280.8L596.9 279.9M222.3 288.8L217.6 287.4L214.0 285.7L210.7 284.4M235.4 308.0L238.8 309.2L242.7 311.1M480.8 256.9L484.9 255.7L488.2 255.0M202.9 305.3L203.5 308.1L205.2 309.5L207.9 310.2M425.1 330.8L427.2 333.1L426.4 335.6L425.1 338.1L424.2 339.8M487.6 241.4L486.1 244.6L483.4 247.4L480.8 247.8L476.7 247.5M280.6 351.3L275.7 352.1L271.7 354.7M226.4 313.0L231.1 314.8L235.6 316.4L240.3 315.2M284.2 223.0L286.1 220.6L287.4 218.0L285.9 215.6M365.5 254.8L368.8 257.4L369.9 260.4L373.2 263.2L372.3 266.9M343.6 327.1L340.3 327.6L335.6 328.9L332.5 329.2L330.1 327.7L327.6 325.4M122.3 217.7L124.9 218.0L129.5 217.6L132.1 215.7L132.7 213.6L135.3 210.7M348.0 290.6L350.8 290.7L353.9 288.8L359.0 288.7L363.0 286.9L366.9 286.8M405.7 180.5L410.6 179.6L413.0 179.1L417.7 177.6L421.0 176.2L425.7 176.5M382.5 193.9L381.4 196.0L382.7 198.0L387.1 199.7L389.4 200.7M271.2 290.4L276.7 290.4L281.7 290.7L285.4 288.9L285.7 285.9M438.2 229.2L434.8 231.1L433.8 233.1L430.7 235.7M184.6 296.3L185.5 299.1L184.2 300.7L182.8 302.3L179.8 303.3L178.3 306.4M225.3 297.0L222.5 299.9L218.9 300.1M398.7 138.3L400.1 135.1L398.5 133.4M213.4 207.6L217.1 208.7L220.8 207.7L222.1 205.7L224.1 204.2L224.8 202.2M389.8 219.6L393.4 221.1L394.5 222.9M463.4 234.4L458.5 235.8L453.3 236.7L450.8 238.0M504.7 282.1L506.9 283.9L509.6 285.9L510.5 287.7L511.4 289.9M331.0 219.7L334.7 221.4L335.9 222.9L335.0 225.1M504.8 306.1L500.1 307.9L495.9 309.6M358.1 274.1L356.0 277.5L355.8 280.7L352.5 283.5M256.2 354.9L260.1 357.3L261.7 361.0L259.7 363.5M452.8 268.4L454.0 271.2L452.0 273.6L452.2 276.1L453.5 277.8L454.2 279.8M418.3 322.0L421.9 323.1L425.0 322.2L427.5 322.7L431.0 325.0L431.5 327.3M467.4 205.4L467.0 207.3L469.1 209.1L474.1 209.5L479.2 208.4M346.6 198.8L349.2 199.1L351.9 197.8M413.8 188.3L411.1 188.9L408.3 190.9L408.5 192.7L409.0 194.7L407.6 196.5M477.1 283.8L478.5 286.2L476.9 288.2M463.7 193.0L460.7 196.0L458.2 196.9L453.0 197.5L447.6 197.5M425.7 199.0L426.0 200.9L426.4 203.2L426.2 205.8L426.3 208.7M437.7 311.8L437.6 314.9L437.3 316.7L438.9 319.7L443.7 320.9M325.1 235.1L328.3 235.4L330.8 235.6L334.5 234.8L337.5 234.8L340.2 233.3M133.7 241.7L137.2 243.0L141.6 243.1M197.8 289.3L195.6 290.9L190.9 291.2M112.0 239.8L115.1 238.2L117.2 235.0L120.0 232.4L122.1 231.2L126.9 231.2M366.1 278.5L367.8 281.0L369.8 282.1L373.8 284.3L375.4 286.2M362.7 278.1L358.3 280.2L356.3 281.3L356.2 283.1L356.8 286.4L357.7 288.7M323.1 356.8L322.0 359.2L318.7 362.1L318.5 365.1M477.2 203.3L473.3 203.4L469.5 203.0L464.8 203.4L461.2 204.0M321.6 244.9L320.5 246.9L320.3 249.0L320.2 251.0M381.4 238.5L383.7 239.3L385.9 242.2M434.7 197.7L440.0 198.4L443.7 199.7L446.9 199.0L451.7 197.2L453.6 194.5M278.7 371.4L278.0 373.6L280.5 376.0L283.5 376.4M303.4 355.6L302.6 357.4L301.1 359.0L298.7 360.7L296.2 361.0M336.5 340.7L336.2 344.0L335.9 347.3M204.2 260.8L208.9 260.9L211.7 259.0M307.7 327.3L307.3 329.1L305.5 332.1M236.0 361.0L233.3 360.3L227.9 359.5L224.8 357.8L224.7 354.1M240.7 296.3L245.7 295.6L248.7 296.3L251.2 297.7L253.3 298.9L256.0 299.3M471.5 221.0L467.9 221.0L464.7 222.8L461.3 225.6L457.2 227.3L452.9 228.7M301.1 369.1L301.9 371.0L301.6 374.2L300.5 376.4M385.1 305.6L384.9 307.5L382.2 309.0M440.7 193.3L438.1 193.7L433.3 194.3M280.1 357.6L275.3 358.1L271.4 360.5L270.7 362.9L268.1 364.0M344.8 311.4L343.1 312.8L342.7 316.2M180.0 272.4L182.0 273.8L183.6 276.2L187.2 277.2M381.5 346.5L385.0 344.8L387.2 343.9L389.7 342.4M419.7 324.3L421.5 326.2L424.2 328.4M316.1 287.9L318.7 287.1L322.8 287.7L326.5 287.2L327.7 285.5L330.3 284.1M267.1 302.5L262.8 303.8L261.1 307.2L263.3 310.6L261.6 313.4M529.7 294.0L533.8 295.8L537.0 298.3M143.3 227.4L145.9 229.1L148.9 229.6L153.7 229.3M550.8 288.9L547.4 290.6L542.1 291.1M346.9 276.2L347.0 277.9L345.2 279.7L341.6 280.4L338.8 279.2L337.1 277.6M475.2 234.9L476.0 237.7L479.3 240.2L482.7 242.6M507.9 243.9L508.1 246.6L510.3 248.0L510.2 250.6M212.2 292.2L215.2 291.5L220.5 291.3L223.3 288.7L226.1 286.7M211.1 181.0L214.1 180.9L217.0 179.6L220.8 176.9L224.6 176.6M483.2 261.4L485.7 262.3L488.1 264.1L490.4 266.7L489.5 269.3L490.2 271.7M284.8 338.6L281.8 341.7L282.7 343.9L285.6 346.8L290.0 347.5M550.1 293.7L546.3 294.1L543.4 295.8M374.7 322.6L375.1 324.5L372.2 327.2M409.4 332.1L404.2 331.0L400.3 331.2L396.5 328.8M150.3 214.6L148.2 216.9L148.6 220.2M377.4 320.3L374.8 322.6L369.8 322.8L367.2 323.4M396.5 148.2L392.3 147.6L389.7 148.1L385.9 147.8M230.2 311.6L233.2 312.9L236.3 315.4L238.3 317.3L239.0 319.5M199.8 204.2L202.2 205.5L205.0 206.1L207.7 206.5M440.4 268.1L438.6 269.6L434.2 269.7L431.3 269.2M272.3 195.8L277.3 195.3L278.9 193.6M193.8 321.2L190.7 322.9L187.6 324.6L183.3 326.2M321.5 284.3L321.1 287.4L317.6 289.4L314.7 289.3M421.0 207.4L419.4 209.3L417.0 211.1L414.6 211.8L410.5 211.1L407.7 209.7M310.1 312.9L314.0 313.2L316.5 314.7L320.0 315.5M329.5 194.1L332.0 195.6L334.9 198.4L337.5 199.5L338.6 201.8L342.7 203.3M425.1 164.8L428.9 165.9L431.8 168.2L436.2 168.5L441.0 168.7M465.5 201.6L461.7 203.0L459.1 204.0L454.6 205.1M433.0 152.1L436.5 149.4L437.7 147.2L439.4 145.0L444.7 143.9M169.7 257.9L172.3 257.7L176.1 257.0M175.4 257.9L176.6 260.9L180.0 262.7M535.8 282.7L541.2 282.0L543.9 278.9L546.7 277.6M177.8 273.1L175.2 275.9L170.8 276.1L167.5 276.8L162.2 275.9M247.9 234.4L250.8 234.9L252.9 236.5L256.2 236.8L260.6 238.5M276.4 260.9L271.2 260.0L267.6 259.3L264.3 261.0M182.8 182.1L187.2 183.6L191.6 182.1M341.0 324.4L342.7 326.1L345.1 327.8L347.8 330.4L347.5 333.1L346.8 335.3M459.0 294.5L462.5 294.0L466.6 293.1M197.4 318.4L193.2 316.6L189.6 316.6M217.4 193.0L220.5 192.7L224.5 192.4L228.2 191.3M407.2 335.9L407.4 337.7L406.8 341.1L405.4 343.3M320.7 207.1L319.1 208.5L315.1 209.0M448.1 298.5L444.6 299.4L439.9 301.1L436.9 303.8L435.5 307.4L436.6 309.4M340.7 198.2L342.2 199.9L342.0 203.6L339.5 206.5L340.1 209.3M384.1 299.5L380.4 301.3L379.0 302.9M232.1 341.2L229.4 342.2L226.3 342.6L223.6 342.7L220.0 341.9M464.8 265.8L464.9 268.4L461.5 271.2L459.6 272.3L456.2 273.5L451.5 274.7M277.9 349.9L282.6 350.8L286.1 350.6L289.9 352.4L292.3 353.2M170.2 279.0L168.3 281.3L166.8 283.0L163.7 284.0M249.0 246.7L252.7 246.4L254.4 244.9M356.6 333.0L352.6 333.4L348.7 333.0L343.7 333.1L340.2 334.1L334.8 334.4M282.0 271.6L286.6 273.4L289.3 275.9L291.9 276.7M330.1 216.2L333.7 214.7L338.9 215.7L342.3 218.6M340.3 346.9L337.2 348.5L333.1 349.0L328.8 347.9L324.9 346.8L320.5 347.4M387.0 341.4L387.0 343.7L384.8 347.2L381.8 347.9L376.8 346.8M556.5 275.6L559.1 278.8L559.3 281.5M427.4 151.1L432.4 150.8L437.1 151.8M263.9 291.3L264.9 293.3L264.4 295.2M237.1 317.7L241.5 319.7L244.9 319.2L247.9 316.9M150.2 206.3L153.6 204.9L158.4 205.2L163.3 204.8L165.9 201.8L171.3 201.0M371.9 171.1L368.0 173.7L367.2 177.1M477.7 312.2L473.8 310.0L470.3 308.5M441.2 214.7L445.0 215.7L446.2 217.6M274.8 317.4L277.1 318.5L280.3 319.3M482.1 211.4L477.7 211.2L473.3 212.1L471.8 213.6L470.0 216.7M185.6 275.8L185.2 278.3L183.3 281.3M294.2 162.7L290.9 163.8L287.3 166.3L285.7 168.6M293.6 332.8L291.6 335.0L288.1 337.6M445.3 201.5L449.3 202.8L452.2 205.6L454.1 208.8L458.7 210.6M319.5 180.1L323.0 178.4L325.1 177.2L330.1 176.7L335.3 176.0M221.7 237.4L224.1 239.5L229.4 240.4L231.7 239.7M365.3 322.5L367.6 325.8L368.3 327.7M384.4 145.4L387.4 145.0L392.1 147.0L395.7 149.9L396.5 152.5L394.5 156.0M326.6 174.7L330.7 176.0L332.1 178.7L333.0 181.1L336.4 182.3M353.5 185.4L356.5 185.7L361.5 186.0L364.6 186.7L369.7 186.7L372.5 184.8M338.0 254.9L342.7 255.6L345.8 257.1M329.9 255.7L326.8 255.5L324.1 255.9L320.6 257.3L316.6 257.5L311.9 255.5M271.7 177.1L276.2 175.8L278.3 174.3M312.5 235.1L317.1 234.5L321.5 235.5M232.2 291.8L228.8 294.8L224.3 295.2L220.3 296.4M286.0 360.9L281.5 362.1L277.8 362.1L273.9 364.0L269.8 364.8L264.6 364.1M291.6 318.4L286.9 319.0L281.9 318.6L278.0 320.5L273.8 321.6M234.3 263.4L237.3 263.8L242.4 263.8L244.3 265.5L249.2 265.6L252.4 267.3M421.7 277.5L419.0 280.8L415.4 282.3M219.9 212.8L224.5 214.7L229.6 216.1M392.8 206.1L397.7 207.2L401.2 209.0L404.5 210.1L409.0 211.0M361.9 302.6L358.7 301.6L355.7 301.4M114.0 235.0L115.8 232.3L115.3 228.6M431.9 235.4L435.4 235.8L438.6 236.2L443.3 236.3M254.6 186.4L256.8 185.5L258.3 182.4L257.4 180.2L254.0 177.7L254.2 175.6M393.7 187.7L392.5 191.2L390.6 194.3L389.9 196.7L387.7 199.2M418.3 170.1L422.2 170.3L425.9 172.3L428.2 173.3L431.3 174.8L434.3 176.3M326.3 257.7L323.3 258.7L319.4 258.9L316.8 259.2L313.0 261.2M393.4 323.1L390.9 325.5L389.7 327.1M150.3 231.7L154.0 231.2L158.4 232.6L161.8 231.3L164.2 231.9M219.4 348.8L217.2 351.3L214.9 353.0L213.1 355.3L208.6 356.6M250.0 192.1L250.0 195.4L253.2 198.0L257.8 198.7L262.1 197.7L264.2 196.6M323.4 307.1L326.2 310.3L327.4 314.0L329.3 316.4L332.8 319.0M331.2 305.3L336.4 305.8L341.7 305.4L345.2 305.4L350.5 305.9L355.0 307.4M388.0 277.4L392.7 277.7L396.2 278.1M554.9 257.5L553.1 261.0L549.1 262.5M324.1 273.1L327.3 275.2L331.1 277.3L334.7 276.8M280.5 306.5L282.1 308.1L287.1 308.3L290.9 308.4L292.8 306.9L292.0 303.4M161.8 282.6L160.7 284.8L161.1 287.4L157.8 289.8M274.0 229.8L278.8 230.1L282.0 228.1L286.3 227.8L290.1 228.0L293.4 229.7M295.5 280.4L293.9 282.0L292.4 283.5L292.4 286.1M387.4 316.9L388.4 318.5L388.6 320.6L388.1 323.4L386.7 325.2L382.0 325.8M410.1 178.7L415.2 177.6L418.8 176.6L421.8 176.6M448.0 202.4L444.6 204.8L442.6 206.5L442.7 209.7M453.8 284.6L457.3 282.9L458.3 279.8L459.8 276.2M478.3 258.3L476.6 259.8L472.8 261.5L469.0 262.3M397.4 328.4L396.7 332.2L395.0 334.2L392.8 336.6M332.2 198.3L329.7 201.7L329.9 204.0L328.2 206.0L325.5 207.3M310.1 271.0L310.2 273.1L313.2 274.8L315.0 277.4L313.0 280.9M362.7 211.0L361.0 213.3L360.1 216.9M505.7 214.3L502.4 214.2L499.0 215.7M394.2 301.6L395.0 303.5L395.7 305.3L395.1 307.3L395.3 309.7L394.1 312.1M439.2 254.8L437.4 257.0L436.8 258.7L434.3 260.9M372.9 297.7L376.8 298.6L379.6 300.4L382.4 301.8M227.4 284.8L225.3 287.1L220.8 289.2L216.8 289.7L212.9 288.9M358.9 246.9L354.4 246.2L351.4 243.6M282.8 314.8L278.1 315.6L275.7 318.7L274.0 320.6L273.2 323.5M364.6 190.1L366.6 188.2L370.7 186.8L372.7 184.6L372.9 182.2L374.5 180.3M192.0 321.5L196.7 321.5L200.3 322.0L204.4 323.7L206.5 325.3L205.8 329.0M391.5 331.4L387.4 331.5L384.2 333.0L382.8 334.5L379.8 336.1M326.2 360.2L327.3 362.3L332.0 363.6L335.4 363.8L337.6 365.8L339.3 367.5M376.3 326.9L373.2 326.5L370.8 327.7L366.9 328.6L363.0 330.4L361.0 333.1M247.2 213.7L249.2 215.0L251.4 216.8L253.2 218.2L258.2 218.1L261.1 217.8M342.7 295.6L345.9 295.2L349.4 296.4L352.4 295.9M426.3 253.0L427.8 254.9L428.6 257.0L430.2 258.5L432.0 261.4L431.3 263.5M389.3 204.7L390.9 206.7L391.8 208.7M501.2 290.4L502.5 293.5L502.2 295.5L500.9 297.9M415.5 287.9L417.6 290.2L420.9 291.3M405.7 245.0L402.2 247.5L399.9 250.3L396.9 251.8L393.7 251.3M397.9 312.7L395.8 315.7L393.0 318.3M413.1 260.1L417.7 259.2L421.3 258.0L424.2 259.1M463.7 263.0L461.3 264.3L461.4 267.3L464.2 269.9M382.4 229.1L379.8 230.7L377.9 232.5M457.7 239.8L459.5 241.8L459.5 244.7M482.0 307.8L482.2 310.5L484.5 313.5L487.2 314.7L491.4 314.7M441.0 242.8L444.9 244.0L448.8 242.7L449.9 240.5L449.5 237.8M476.8 268.4L479.0 271.4L483.5 272.4M308.6 312.5L305.2 312.6L301.8 314.0L301.0 315.9L298.7 318.9M526.6 230.8L523.1 230.3L520.2 230.2L515.8 231.4M394.2 327.1L391.7 328.7L388.6 330.4L386.3 332.0L387.0 334.7M505.7 244.9L501.8 246.0L499.9 247.4L499.5 249.6M338.9 299.6L337.8 302.8L336.4 305.8M481.6 300.7L485.0 299.8L488.8 299.4L492.3 297.3M563.2 267.4L559.8 268.6L556.2 270.5L555.5 272.6M400.9 278.2L396.3 279.4L392.2 278.8L390.0 277.3M489.7 215.7L485.5 217.5L482.4 218.5L478.2 218.9M473.7 274.7L475.4 276.8L476.6 278.4L479.9 278.8L482.5 278.3M448.0 295.2L447.7 297.0L447.3 299.9L445.8 302.5L447.5 305.2M265.8 253.7L269.7 253.6L272.6 251.3L275.0 249.0L277.2 246.2M409.2 219.4L411.1 221.4L410.3 223.7L408.3 225.9M491.2 268.4L493.4 270.1L494.5 272.1L496.2 275.0M319.1 272.9L317.6 276.0L319.0 278.0L317.8 280.6L317.6 282.5M263.8 274.1L260.5 275.7L257.5 276.5M298.8 313.3L300.3 315.2L303.3 315.7L306.7 317.0L310.2 316.1M431.4 329.7L428.9 332.5L427.7 335.3L425.2 336.5L422.1 336.0M494.2 302.4L497.9 302.6L500.6 303.0M472.4 279.7L475.2 279.2L476.6 276.7M238.1 262.1L236.3 264.4L232.1 265.0M366.6 250.2L369.3 252.2L372.3 253.2L375.9 253.0L377.3 251.1M309.8 254.1L312.0 256.7L315.1 257.1L318.8 257.1M337.8 346.7L339.4 348.6L340.4 351.7L339.3 354.3M429.8 285.9L432.5 287.5L435.1 287.8M519.3 260.5L520.5 263.8L523.2 264.5L526.3 266.7M289.1 279.5L286.7 281.2L281.8 280.9M579.6 275.3L579.8 278.4L582.0 280.0L582.4 282.6L579.0 285.1M368.9 318.4L371.5 321.4L371.1 324.0L368.7 326.4L367.0 328.8M284.6 271.4L283.8 273.6L285.2 275.9L285.8 277.7M329.9 295.3L330.8 297.4L332.0 300.0M255.5 280.0L253.1 281.5L252.0 284.7L252.9 286.5L254.5 288.5M368.9 231.7L366.4 234.6L368.2 237.8L370.2 240.5M421.0 213.0L418.7 214.6L417.8 217.1M489.6 271.0L489.5 273.1L487.1 275.3L483.4 276.4M552.7 254.6L549.2 256.7L548.6 259.7L548.2 261.6L549.1 264.2M415.7 305.9L411.4 305.4L408.2 305.5M326.3 331.2L329.4 332.8L329.5 334.6L332.0 336.1M486.6 231.0L489.2 233.1L488.4 235.7M418.7 321.3L420.0 323.7L424.2 324.9L425.5 327.7M549.0 247.5L545.5 248.0L542.8 248.9L540.5 251.4M315.0 244.3L317.6 245.9L320.1 248.3L322.5 249.9M471.0 215.1L469.1 217.6L470.2 220.1L473.4 221.7M388.3 298.1L386.2 300.5L384.1 303.5L383.6 306.3M420.5 254.4L421.0 257.3L422.5 259.4L422.5 262.0M399.5 281.1L403.4 281.5L406.6 279.7L410.6 277.5M415.8 283.5L414.3 286.3L410.7 287.1M369.1 276.9L370.1 280.0L372.5 282.2M355.2 236.3L354.2 238.6L354.0 241.9L354.8 244.2L358.8 245.6M409.0 255.7L413.7 256.1L417.3 256.4L419.3 259.2L423.0 260.7M375.1 274.9L377.7 276.5L377.6 278.8M372.0 298.3L376.5 299.6L380.3 300.7L384.1 301.5L388.1 300.3M300.2 319.8L301.2 322.9L299.1 326.0L298.4 329.3L301.8 331.4M304.5 300.0L302.0 301.8L300.3 303.2M481.5 311.3L484.6 313.9L487.5 314.9L491.9 316.0L493.9 318.0M395.0 211.0L397.8 212.5L397.6 215.2L396.4 217.3M295.5 268.7L291.5 269.5L288.6 271.2L286.6 273.6L287.6 276.3M331.6 348.6L335.4 349.1L338.7 346.7L339.3 344.8L340.3 342.9M481.6 240.0L482.3 243.4L482.6 245.8L485.3 247.4L486.4 249.2M497.8 209.9L498.9 211.9L497.0 215.0M307.2 312.0L303.6 311.9L299.7 311.3L296.6 312.8M504.4 281.1L501.7 281.9L499.1 284.4L499.7 286.3L498.3 287.9M390.1 298.4L393.1 300.6L396.6 301.4L397.5 303.2L399.5 305.6M469.3 271.1L465.1 271.8L461.9 272.6M426.1 218.2L425.4 220.5L427.1 222.1M332.7 244.9L332.3 247.2L329.6 249.2L328.6 252.1L328.5 254.1M521.6 266.5L525.0 266.8L528.4 265.6L531.5 265.6M408.2 242.8L408.2 244.6L407.4 246.5L408.2 248.4L409.7 251.7M509.7 223.3L504.8 223.4L501.9 225.8L497.0 226.1L493.8 224.2M499.6 216.2L496.6 217.8L494.8 220.0L495.0 222.6L493.4 224.2M464.3 248.6L462.2 251.3L462.4 254.2L465.9 256.1M393.4 260.5L394.3 263.5L391.5 265.7M314.0 287.0L311.8 284.7L309.0 283.0M454.8 253.9L456.6 255.5L460.4 255.8M370.3 281.2L373.0 282.3L376.0 281.1L379.1 279.1M433.4 262.5L436.9 262.2L440.7 261.1M485.0 207.0L486.0 209.5L486.4 211.8M509.7 265.7L513.7 267.5L517.9 268.2L521.9 268.9L523.6 270.4M349.3 346.8L351.6 348.1L352.4 350.1L355.6 351.4L357.2 353.2M503.8 303.5L504.7 305.5L504.7 307.4L504.7 309.6L505.6 312.5M455.3 272.3L459.2 274.2L462.0 276.3M534.2 266.7L531.6 267.3L526.9 268.1M346.5 349.6L347.4 351.5L349.8 352.8L351.1 354.8M495.5 233.3L498.6 234.4L501.7 236.0L505.3 235.8M515.6 249.7L513.1 252.4L508.5 253.0L504.7 252.3M436.1 291.0L437.6 294.2L436.9 296.6L434.4 298.1L432.0 300.2M496.2 210.5L493.6 211.3L491.5 213.7L490.9 215.6L494.0 218.2M528.0 274.3L523.2 273.6L520.7 275.1L519.2 278.2M359.0 319.8L360.4 321.9L360.1 325.2L361.7 327.4M388.0 330.4L383.6 330.7L380.5 332.3L378.2 335.2M449.8 260.2L453.1 262.6L454.6 264.7L458.6 265.5L461.1 264.2M256.6 270.2L256.3 272.4L257.0 275.2L259.9 276.9M415.1 315.7L414.7 317.7L416.6 319.5L415.7 321.7L416.3 324.3M324.8 332.9L322.3 334.6L319.9 337.0L318.3 339.4M351.9 337.3L355.1 337.9L356.7 341.1L360.8 341.9L364.5 342.2M532.2 255.1L536.2 256.6L540.8 255.3M382.3 232.3L379.5 231.1L379.0 228.8L379.3 226.6M439.0 232.5L443.0 234.1L445.8 236.8L447.6 239.3L449.0 242.4M352.7 340.3L350.9 342.8L351.0 346.0L353.0 348.1L353.6 350.1M437.6 248.4L440.0 247.4L441.0 244.4M356.9 349.8L358.8 352.2L361.6 353.0L364.1 352.2L366.7 350.9M462.0 298.5L462.2 300.6L461.8 302.6L463.9 304.2L466.3 304.6M324.6 335.3L323.8 337.0L320.9 338.3L318.2 340.5L315.9 342.2M275.5 257.1L275.4 259.9L276.2 261.7M358.7 278.0L357.3 281.0L358.7 283.4L357.8 286.1L358.2 289.5M536.5 299.5L538.6 301.7L541.9 303.3L542.7 305.4M403.9 265.8L402.8 268.7L402.7 271.0M430.9 324.0L431.8 326.4L433.6 329.1L432.1 332.5L431.2 334.9M481.3 239.1L486.0 238.3L488.6 236.2L489.4 233.3M366.3 343.1L368.7 345.4L372.3 346.1M524.8 274.5L521.3 275.3L518.8 278.1L518.6 280.2L515.6 282.3M316.5 263.0L319.1 262.2L321.1 260.8L325.0 261.2M354.5 226.7L351.3 229.2L348.4 230.2M335.7 258.2L333.6 259.8L333.5 262.4L334.1 264.9M336.1 246.3L340.0 244.6L343.8 243.9L345.3 242.2L350.1 242.1M352.1 241.9L348.2 243.4L347.0 246.1L347.4 248.2L349.2 250.3M433.4 250.6L432.9 253.4L429.8 255.0M419.0 218.4L415.5 219.4L410.6 219.3L406.3 217.7L403.1 217.2M543.2 275.9L540.3 278.2L537.5 278.5L535.0 279.9M392.4 281.6L389.1 281.5L386.3 283.2M445.8 251.2L443.4 251.6L441.6 254.0L438.5 255.0M345.6 322.8L343.1 324.9L343.0 327.8L345.9 329.5M437.3 298.8L434.3 298.2L429.9 297.5L427.6 298.7M423.0 274.7L425.8 277.5L424.7 279.7M391.6 211.9L393.4 213.3L397.8 213.8L400.7 214.8L404.7 214.2M486.9 214.0L482.8 215.9L479.0 216.4L475.6 214.0L473.0 211.8M389.4 329.3L392.2 330.2L395.8 330.2L397.8 329.0M247.7 250.4L247.2 252.5L244.5 254.9M487.8 253.0L489.4 254.7L492.3 255.2L495.1 255.1L498.1 255.4M433.1 288.8L432.6 291.0L433.3 293.2L435.9 294.7L437.3 296.7M343.8 301.9L344.3 305.1L346.0 306.9M474.7 216.0L475.1 217.8L476.5 221.1L476.5 223.3M442.7 245.1L446.2 247.3L446.0 249.5L443.2 250.7L442.1 252.7M583.6 278.3L585.3 280.0L587.5 282.2L587.9 285.3M381.9 234.7L384.4 236.7L384.0 239.4L381.2 241.9L378.9 244.4M449.3 250.3L445.6 252.7L443.4 255.1L440.5 257.7L440.0 260.2M382.0 318.2L381.2 321.2L378.9 322.7M478.9 212.4L479.5 214.8L481.4 216.8L485.5 218.1M403.1 300.1L404.4 303.5L407.8 304.3M454.1 291.3L457.4 292.0L461.0 294.2M389.8 228.3L388.5 229.9L384.2 231.6M470.5 275.5L466.9 277.7L466.7 280.1L468.1 282.1L467.2 284.2M485.9 279.0L490.2 279.8L494.9 279.2L498.7 278.1M477.3 259.1L475.0 262.1L470.7 263.8L468.4 266.2L468.5 268.2M420.0 326.2L420.5 328.3L423.8 329.9L428.6 329.9M391.1 249.1L389.7 252.2L388.8 255.4L388.1 257.7M315.2 236.7L313.4 238.1L310.8 240.7L311.0 242.6L312.7 244.1M493.1 274.1L488.6 275.6L487.1 277.3M454.1 209.9L456.7 212.2L460.2 212.7L462.7 211.8L466.0 210.5M437.7 195.6L439.1 197.3L439.8 199.8M557.1 273.4L555.9 276.2L553.3 276.9L550.2 276.1L546.2 276.8M457.6 211.6L458.5 213.8L462.4 214.7L465.0 215.7L467.8 215.9M539.8 291.6L540.3 294.9L537.9 296.4M375.4 335.2L374.5 337.0L372.2 338.1M322.0 270.9L319.4 272.7L316.5 274.1M351.4 255.2L354.2 256.3L356.0 257.8L360.3 257.4M466.8 260.7L463.6 262.2L460.9 263.5L458.3 265.2L453.6 265.1M349.7 281.1L352.7 282.9L355.7 284.8M463.1 215.9L464.9 217.2L465.2 219.1L463.5 220.7M278.9 266.7L282.6 266.4L287.3 266.9M495.1 290.2L492.6 292.1L491.5 295.1M521.3 278.7L524.6 280.9L528.3 281.1L529.9 279.7L533.0 279.8M345.6 237.6L342.6 236.8L340.0 236.2L337.8 233.6L334.7 231.2M453.9 259.3L453.4 262.2L449.4 263.7L446.8 266.6L445.0 269.1M458.7 271.3L455.3 270.8L451.6 271.1L447.9 269.8M554.0 268.2L552.3 266.7L551.6 263.9L548.3 262.8L543.6 263.9M323.3 312.7L321.3 314.5L320.1 316.0M397.2 260.5L400.6 261.6L405.0 262.1M284.0 266.8L282.0 268.5L280.9 270.7L277.5 271.3L272.9 272.4M425.4 236.4L423.1 238.1L422.0 240.6L423.2 243.6M529.5 263.6L527.9 265.3L525.6 266.6M564.6 264.6L564.0 267.7L565.6 270.8L570.4 271.5L574.6 270.2M324.3 296.1L322.7 297.9L321.0 300.1L320.3 302.1M383.8 283.0L385.2 284.8L388.7 286.0L390.2 289.3M411.7 217.7L411.2 220.4L409.8 223.4L407.1 226.1L405.5 228.1M393.2 277.9L396.8 278.7L400.8 278.1L403.2 277.7L407.6 278.5M581.8 279.2L580.0 280.7L580.7 283.2L582.3 285.8M304.2 281.2L307.4 283.0L312.1 282.6M530.7 252.4L532.7 253.4L535.2 254.4L539.6 254.4L543.5 255.1M487.9 210.9L483.9 212.9L481.2 214.8L477.7 215.2M499.4 217.1L498.5 220.6L497.4 222.3L497.2 224.3M409.7 273.5L409.3 275.3L405.7 277.0L403.4 280.0L402.0 281.6M359.2 233.0L364.0 232.9L366.3 230.4L369.5 229.4L373.6 230.5M382.1 248.5L386.7 249.6L390.3 249.2M354.6 321.6L358.3 322.4L362.5 321.0M385.7 334.2L382.4 336.1L382.4 339.6M402.6 210.1L406.4 212.3L409.3 213.8M245.4 272.1L243.9 273.6L239.5 274.5L234.6 274.5M361.5 253.7L358.3 255.6L355.9 257.2M252.8 277.5L254.1 279.0L253.7 280.8M311.9 299.5L316.4 300.1L319.5 299.4L322.5 298.8L325.6 296.7M536.9 297.6L538.3 300.5L536.6 302.7L534.2 305.3M332.2 343.6L330.3 345.9L331.8 348.2M284.6 274.8L282.9 277.3L281.9 279.0L281.9 281.7L282.5 284.4M312.2 312.9L311.1 316.0L310.8 317.9M489.1 236.2L485.8 236.8L481.5 237.3M441.4 274.4L443.8 275.2L447.6 277.2L452.3 277.9M381.9 329.2L385.6 330.4L388.1 332.2L391.5 331.7M428.4 281.6L425.3 283.9L425.8 286.5L426.3 288.7L429.7 289.8M348.7 288.5L345.7 289.6L343.1 292.4M364.7 236.8L365.9 239.7L367.2 241.5M438.9 220.8L436.9 222.1L433.1 222.2M523.0 229.2L521.5 232.0L519.5 235.0M398.8 337.7L402.0 340.3L403.8 342.3L406.5 343.3L409.6 342.7M399.6 315.7L403.4 317.5L407.4 318.1L410.0 318.5L412.1 320.0M402.5 227.0L400.5 228.8L397.1 228.8L392.8 229.4L391.4 231.0M481.0 226.2L481.9 228.6L482.0 231.2M404.1 288.9L404.2 291.1L402.8 292.7L401.4 295.6M344.6 350.3L341.4 353.0L340.4 354.9L341.6 357.3L346.3 358.5M337.0 312.1L337.4 314.4L340.2 316.1L341.1 317.8L340.8 319.8M338.5 245.6L339.9 247.4L343.3 249.9L346.7 251.1L347.8 253.7M352.8 345.5L348.6 343.6L346.4 340.7L344.3 339.6M338.4 290.3L334.8 292.1L332.3 294.1L330.5 295.6L327.2 296.5M502.6 251.3L499.7 252.9L495.4 252.1L490.8 250.9L486.6 251.8M400.0 248.8L403.0 251.2L405.8 250.9L409.1 249.0L410.3 247.4M380.4 344.1L384.0 344.6L386.8 343.0L391.1 341.2M316.8 317.4L320.7 316.1L323.6 315.8L327.1 315.1L329.2 313.2M322.5 322.6L318.4 320.6L313.9 320.7L311.2 318.5L311.5 316.4M483.0 228.4L487.6 228.8L490.9 227.5L495.7 227.2M461.9 208.4L458.4 208.4L453.5 208.4L451.5 209.5M259.5 263.9L258.3 265.6L255.9 267.1L256.1 269.2L254.4 270.8M472.3 204.7L468.3 206.2L464.0 205.8M499.7 243.5L496.6 243.5L494.4 240.9L492.7 239.1M510.2 248.8L506.4 247.5L501.9 248.1M415.3 214.5L418.7 214.3L421.8 215.2M347.7 254.1L345.3 255.9L344.1 258.9L340.6 260.7M373.1 291.0L372.9 293.1L370.2 294.4L365.5 294.0L362.2 291.7M435.8 325.0L436.1 327.1L436.6 329.3M410.9 307.1L413.4 308.7L413.5 310.9L415.2 313.3L416.6 315.0M531.4 242.1L529.4 243.9L526.0 245.5L525.9 248.3M336.5 257.9L332.1 259.4L331.0 261.6L331.9 264.2L330.6 267.0M546.1 258.4L550.0 260.4L550.0 262.9M337.5 295.6L335.2 297.9L336.1 300.5M319.1 300.8L317.5 302.6L316.2 305.2L314.6 307.1L313.8 309.7M300.0 312.1L301.4 314.8L302.5 317.2L301.7 319.7L303.2 321.7M442.1 282.6L442.0 285.2L443.1 288.5L443.2 291.2L445.3 293.3M397.7 216.8L400.9 216.4L403.6 217.6L407.0 218.9M241.8 266.3L242.8 268.1L247.1 269.8L251.6 269.4L256.3 269.4M420.9 212.9L416.6 213.1L411.6 212.7L409.0 211.3L406.4 210.8M384.1 326.6L384.3 329.7L385.7 332.1L388.2 334.6L392.6 334.6M361.2 310.9L365.9 311.2L368.5 309.2M509.8 305.7L509.8 307.5L511.8 308.6M513.4 294.2L516.6 291.9L515.9 288.5M338.8 304.5L342.2 302.9L343.0 300.9L345.9 300.1M414.5 289.8L410.3 288.7L407.9 286.8L408.7 284.5L411.5 283.3M476.6 228.5L475.8 230.9L474.4 233.1L476.6 236.2L478.1 237.9M264.5 246.9L263.0 248.4L262.0 251.6M419.5 214.4L422.4 214.9L425.3 215.3M474.3 306.6L472.7 308.2L474.2 310.7M423.7 261.0L421.6 262.1L417.0 262.7M427.1 265.4L431.1 267.3L434.9 267.3M435.9 254.5L433.3 255.8L433.0 258.2M484.8 254.3L482.1 256.9L479.6 257.5L475.7 257.6L471.7 258.2M325.4 256.3L324.1 259.0L323.5 261.8L326.0 263.6L325.3 266.3M382.4 294.1L378.1 294.4L375.7 295.6L372.8 295.5M507.5 291.6L504.4 290.2L503.7 288.3L502.6 286.7L503.8 283.5M400.5 267.7L398.4 268.9L394.5 269.0L391.1 269.4M239.8 254.9L235.2 255.5L231.7 256.1L228.7 256.1M360.0 308.1L357.4 307.0L355.5 305.2M439.1 299.9L440.5 302.6L439.7 306.0M457.1 214.9L454.6 215.9L452.3 217.6L447.5 217.6L445.1 219.9M568.7 278.1L569.0 281.0L572.3 282.2L573.6 284.1L576.6 286.9M401.6 277.9L400.6 281.1L398.5 283.1M413.8 242.0L416.8 240.4L417.8 237.9L415.7 234.9M467.0 297.8L464.7 299.1L462.0 300.3M400.4 221.3L402.9 222.4L407.3 221.6M421.0 232.1L416.7 230.8L413.3 231.4M503.8 267.6L503.1 269.8L505.7 272.0L510.3 272.9M546.0 268.1L542.6 268.2L540.2 267.5L537.7 265.7M562.9 263.7L566.8 265.1L569.3 267.7L570.4 270.2L572.8 273.2M451.5 197.7L448.8 199.7L445.4 200.4M437.8 239.6L441.1 241.9L443.0 243.5M473.7 243.6L471.2 242.2L467.2 243.0L463.2 244.5L459.6 245.0M469.5 276.7L471.7 279.6L473.7 282.0M362.9 312.4L360.1 313.5L355.7 313.4L353.1 315.5L349.1 315.1M498.9 208.4L500.9 210.0L503.4 211.3L503.4 213.7M467.5 229.4L468.5 232.1L465.4 234.6L463.3 236.5M321.6 285.2L318.6 283.6L315.6 284.1M273.2 257.9L274.4 260.9L272.4 262.8L270.5 264.0M458.6 268.2L459.9 271.4L459.1 273.2L455.4 274.2M408.6 231.7L410.7 234.2L410.4 236.8L409.2 238.4L409.3 240.9M469.3 268.7L464.6 269.7L460.7 270.7L459.7 272.9L459.9 275.4M366.2 230.9L365.0 232.9L366.6 235.1M449.3 260.3L447.1 262.9L444.5 263.5L441.1 264.7L438.1 264.8M501.7 257.8L497.7 258.6L495.2 260.0L492.4 262.5M406.5 241.2L401.7 240.4L398.0 239.2L395.3 239.5L391.6 238.4M476.1 277.4L474.3 279.7L471.0 281.5L468.5 280.9M309.5 293.2L307.0 294.8L304.4 296.4L304.8 298.3L307.8 300.8M305.8 271.1L307.4 272.6L307.1 275.2L307.2 277.4L309.0 280.0M444.7 272.8L447.6 272.9L450.9 273.2L454.6 271.3M287.3 293.4L288.4 296.5L289.2 298.5M321.1 271.3L324.2 271.5L328.0 273.5M383.4 324.1L383.3 326.0L382.8 328.9L379.5 330.5M447.5 208.5L444.6 208.8L441.6 207.2M464.9 293.1L465.2 294.9L467.7 296.5L468.3 298.4M492.2 200.6L492.6 203.3L492.9 206.8L491.1 208.2L486.3 208.9M522.5 297.7L523.4 300.6L521.6 302.4L521.3 305.5L517.2 307.2M528.4 274.4L524.5 275.6L523.3 277.5L523.1 280.4M309.2 320.0L313.1 321.7L317.6 320.9M461.4 241.3L465.6 242.9L467.3 244.4M340.9 252.2L343.7 253.9L347.3 254.5L350.5 254.7M332.0 242.2L336.0 241.8L339.1 242.7L341.6 243.4M356.0 324.6L357.9 327.1L360.5 328.4L361.3 331.6L358.9 333.8M437.5 246.6L435.5 248.7L433.5 250.1L431.9 252.7L428.1 253.5M389.5 337.9L388.3 341.0L388.3 343.1M329.6 263.4L330.0 266.4L333.2 267.6L334.6 269.7L334.7 272.0M450.5 316.8L448.4 318.3L448.1 320.4L444.2 322.3M318.9 305.7L317.4 307.4L315.3 308.6M375.6 253.9L376.2 255.8L377.1 258.0L379.5 260.3L378.6 262.7M278.8 290.6L277.5 293.2L279.0 294.9L280.4 296.6M305.8 239.1L308.8 241.7L309.1 243.7L308.4 245.5M419.8 229.7L416.1 231.3L411.7 230.3L408.4 228.7M393.4 298.9L395.8 299.9L397.7 302.5L399.6 304.4M430.6 262.9L429.4 266.3L426.1 268.7L424.5 271.8L420.0 273.1M287.2 259.2L288.9 261.7L292.9 263.8M325.0 236.4L325.8 238.6L327.6 241.4L331.1 243.6M500.6 206.6L504.3 208.4L507.2 210.7M483.9 284.1L485.5 286.8L488.6 287.7L490.2 291.0L493.3 292.4M398.1 289.1L400.2 291.1L400.4 293.3L399.6 295.7M273.4 267.2L275.7 266.4L277.9 264.5M451.8 199.3L450.5 201.9L448.2 202.8M330.2 299.8L330.1 301.7L327.5 303.7L325.9 306.7M378.4 263.7L377.5 266.3L378.3 269.0L379.9 270.5M429.9 232.2L426.5 231.5L424.9 229.3L423.5 227.0M358.8 345.6L361.8 343.9L364.7 342.9L367.6 341.5L369.5 339.9M438.6 283.6L442.0 282.6L444.4 280.2L446.0 277.7L446.9 275.1M360.1 348.3L362.2 349.5L362.6 351.8L363.7 354.0M431.6 231.3L433.1 233.6L432.3 236.5M315.5 247.5L318.1 250.2L318.1 253.0M472.7 318.0L474.2 319.4L476.3 321.3M515.6 242.3L512.5 240.4L509.9 240.9M345.5 267.6L344.0 269.4L346.0 272.1L346.2 274.1L343.0 276.4M555.3 271.0L552.2 272.1L547.6 273.2L544.3 272.9L540.6 272.5M364.0 319.3L366.6 320.2L367.2 322.5M386.4 244.8L382.8 243.5L381.8 241.4M464.6 194.1L463.2 195.7L463.7 198.3M393.5 236.3L394.5 239.4L396.1 242.1L398.3 244.4L397.9 247.7M348.6 314.1L350.8 316.6L353.4 317.0M355.5 304.3L353.6 306.9L348.7 307.2L346.5 306.0L344.0 305.1M436.8 262.6L440.3 261.5L443.7 259.5M388.1 282.6L386.3 284.2L383.7 284.4M298.2 260.6L296.9 264.0L294.4 265.0L292.5 266.5L289.2 266.4M393.9 234.6L396.7 235.3L399.2 238.3L400.9 241.3L404.2 242.1M558.5 274.3L561.0 277.3L563.8 278.5L564.0 281.8M399.3 295.5L396.9 295.0L392.8 295.5L388.2 295.9M374.8 217.9L370.1 217.0L368.1 218.2M320.3 248.3L316.3 250.3L315.2 252.3L314.6 254.8L316.7 257.8M446.5 230.9L449.0 231.9L451.6 231.1L454.8 231.9M518.1 251.2L520.1 254.0L521.9 256.1L521.8 259.0M505.3 211.7L501.2 211.1L498.6 212.7L497.5 216.1M328.8 227.9L326.3 227.2L322.6 227.1L319.2 225.9L317.6 223.1M381.3 280.7L379.1 282.8L378.9 285.1L376.4 287.5M301.4 303.8L299.8 305.4L300.7 307.7M343.2 255.5L339.3 253.8L337.1 252.6L332.3 252.0L330.4 250.3M382.0 292.8L382.7 294.9L385.2 296.3M408.3 204.6L409.0 206.3L407.5 209.3L409.4 210.9L410.4 214.1M463.1 306.3L467.0 305.2L468.1 301.9L470.9 300.2M529.8 243.5L528.1 245.6L525.6 246.9M372.0 239.0L376.4 240.6L379.8 241.6L381.6 243.4M335.9 252.9L337.7 255.9L337.2 258.9L334.4 260.4M278.0 253.2L281.3 254.2L284.1 253.4M438.9 281.4L436.3 283.0L433.2 283.7L430.9 284.7M266.6 287.5L264.7 288.8L264.3 291.8L260.4 293.3M323.5 274.0L325.4 276.2L323.9 278.4L321.2 280.6M281.7 252.7L282.7 254.3L285.8 256.6L287.7 258.3L290.3 260.3M325.5 287.1L322.2 286.9L318.7 288.9L314.6 289.5M475.6 311.3L473.2 312.4L469.5 314.7L466.3 316.0M455.8 277.1L455.2 280.4L456.5 282.5L458.6 283.5M325.7 264.2L323.4 267.3L324.4 269.2L325.8 271.9M479.0 197.4L480.5 200.7L484.7 202.1L487.8 201.6M365.3 305.9L367.8 308.5L369.5 309.8L370.7 311.4L372.9 313.0M289.6 254.7L288.3 256.4L286.2 257.5L282.3 259.5M354.3 265.6L351.7 267.7L348.3 267.4L345.6 265.0L343.2 262.8M392.8 304.5L389.0 306.4L386.0 307.9L383.1 308.5L379.3 308.6M357.0 284.6L362.0 284.8L365.2 285.1L368.8 284.8L373.1 283.3M523.8 270.1L528.0 270.1L531.9 268.5L534.6 267.4M398.8 236.0L398.1 239.0L401.1 241.3M381.8 283.8L385.1 285.4L389.1 287.0M291.9 273.7L294.3 275.5L294.7 278.2L291.4 280.6M340.1 260.4L343.6 261.7L347.1 261.7L351.2 261.5M411.5 317.7L407.2 317.5L404.0 319.6L399.3 320.1M270.4 281.0L269.1 283.0L270.1 284.9L271.1 286.5M472.1 240.7L471.8 244.1L474.3 246.2L477.7 246.5M436.1 328.3L439.3 328.9L443.3 327.4L445.2 324.3M328.3 246.9L325.8 249.4L321.9 250.2M458.2 308.9L454.6 308.6L451.3 308.4M497.4 250.7L494.9 252.7L491.4 253.3L488.3 254.1L485.8 254.6M551.2 269.6L548.1 269.3L544.3 271.2L542.9 273.0L540.8 275.6M374.2 219.7L371.2 221.0L369.6 223.7L367.3 225.4L365.7 227.1M523.9 240.1L525.2 241.7L528.1 242.8L530.5 243.7L533.2 244.4M348.7 266.6L350.4 269.0L352.1 270.9M374.9 289.9L376.7 291.9L378.3 294.2L381.8 295.5M440.2 201.6L441.7 204.0L444.2 206.4L447.8 207.1L452.2 206.0M467.8 239.2L467.0 241.4L468.6 243.0L471.7 244.6L473.4 246.4M479.7 252.9L477.4 255.5L476.9 257.7M403.3 308.8L403.9 311.5L405.0 313.7L408.3 314.3M373.6 329.1L371.3 329.9L368.5 331.7M395.8 274.4L391.3 273.4L387.6 272.0M261.8 284.6L264.6 284.9L265.8 286.9M406.0 284.7L404.8 287.5L405.7 290.3M416.1 206.0L415.1 209.1L411.0 210.6L410.2 213.0L409.2 215.3M339.4 301.8L342.4 301.0L343.0 299.2M537.4 282.9L533.8 284.6L530.2 286.5M444.4 193.3L441.8 194.8L440.1 196.8M377.6 295.5L375.4 297.4L372.8 299.1M456.9 236.8L457.8 239.0L455.1 241.5M436.8 275.3L432.7 275.8L430.2 278.5M485.9 262.4L481.5 263.6L478.0 261.9L474.9 261.7L472.4 262.7M379.3 231.5L376.8 232.0L373.8 232.2L371.2 233.6L369.8 235.6M320.7 274.6L319.3 276.8L318.8 280.2L317.3 282.6L316.9 286.0M477.5 264.9L475.7 267.6L471.6 268.7L470.2 272.1L473.0 274.5M450.5 315.1L448.2 314.3L446.5 313.0L442.8 312.6L438.8 311.2M364.2 259.2L364.6 262.0L362.3 264.3M538.4 290.4L542.0 292.6L544.9 293.1M398.3 320.4L399.9 323.5L403.4 325.4L407.1 325.1M433.6 270.7L432.0 273.1L430.2 275.8M415.9 274.3L416.3 277.4L414.3 279.6M231.0 257.7L227.7 260.2L224.1 259.8M333.6 285.5L336.7 287.0L337.5 289.2M502.7 215.6L507.0 215.5L509.5 214.2L514.0 213.8M296.4 259.7L294.9 261.4L293.8 263.4L290.3 264.3M462.3 221.6L463.4 224.9L463.4 227.7L462.7 230.0L460.0 232.0M406.8 220.1L405.2 222.3L401.0 222.7L397.5 224.7M498.6 221.5L495.5 222.6L492.0 223.0L490.3 225.1L489.0 226.8M352.1 335.4L349.0 335.5L345.9 337.2M241.5 265.0L244.9 267.3L248.3 268.3L249.2 270.6M462.3 251.1L463.2 253.8L462.0 255.8L461.7 257.5L460.8 259.4M358.1 243.0L363.0 243.1L366.4 244.4L370.1 245.7M450.2 216.8L451.6 220.0L455.7 220.9L458.6 219.5M337.4 278.4L334.0 279.6L330.4 280.9L328.9 283.1L328.1 284.9M367.7 291.4L365.8 293.4L366.4 295.9L368.1 298.0M480.6 192.5L482.8 193.6L486.1 194.0M401.0 282.0L404.5 283.6L405.9 286.0M358.8 329.5L356.2 331.6L357.0 334.2L355.8 336.2M467.1 283.2L466.6 284.9L465.0 287.0L463.3 289.2M496.8 208.9L497.9 212.1L497.1 214.2L492.8 215.2M503.3 232.3L501.0 235.0L499.5 238.3L496.1 239.6L494.1 241.1M404.5 212.6L403.7 214.3L404.6 217.2M424.9 327.0L427.0 327.9L431.0 328.5L433.7 327.9L436.2 329.4M441.2 252.9L436.6 254.2L433.0 252.9" fill="none" stroke="#6e8c7a" stroke-opacity="0.75" stroke-width="0.6" stroke-linejoin="round" style="mix-blend-mode:multiply"/>
<polyline points="63.3,217.5 75.0,213.0 100.0,206.0 135.0,196.0 160.0,187.0 175.0,183.0 177.5,180.0 197.5,172.5 222.5,165.0 232.5,160.5 236.0,159.0 243.8,158.0 250.0,151.0 254.5,148.8 258.8,150.0 265.0,158.0 270.0,151.5 287.5,151.0 300.0,147.5 332.0,137.5 343.8,132.5 372.5,127.5 387.5,125.0 390.0,120.0 398.8,111.2 407.5,113.8 416.5,111.6 421.2,114.5 423.0,126.7 424.0,137.2 431.5,137.2 434.5,149.0 437.4,155.8 447.2,151.9 451.1,153.8 456.0,166.6 458.0,173.4 466.8,166.6 469.7,167.5 472.6,178.3 474.6,186.1 478.5,184.5 499.0,187.0 503.0,186.0 504.0,183.0 505.0,187.5 506.5,200.0 519.0,208.0 524.0,217.5 539.0,232.5 551.5,247.5 554.0,249.0 558.5,244.4 567.3,233.6 569.3,232.2 571.0,234.0 576.0,231.0 580.0,227.7 581.6,230.7 583.0,250.2 585.0,264.0 587.9,275.7 590.8,282.5 591.8,283.5" fill="none" stroke="#000" stroke-width="0.5" stroke-opacity="0.45"/>
<polygon points="63.3,217.5 75.0,228.0 87.5,240.0 100.0,260.0 104.0,257.0 108.8,253.8 113.8,267.5 120.0,271.0 126.0,269.0 131.2,256.0 135.0,275.0 138.0,268.8 142.5,291.0 146.2,272.5 148.0,280.0 150.5,271.0 153.8,278.8 156.2,267.5 160.0,282.5 165.0,292.5 170.0,302.5 172.5,300.0 176.0,308.8 178.8,305.5 182.5,320.0 185.0,312.5 190.0,315.0 196.0,320.0 201.2,307.5 205.0,322.5 211.2,352.5 217.5,325.0 222.5,332.5 232.0,347.5 240.0,360.0 248.0,372.0 256.8,381.5 256.8,422.5 63.3,256.0" fill="#000"/>
<polygon points="591.8,283.5 585.9,288.4 576.1,281.6 564.4,282.5 554.6,292.3 544.0,295.5 529.0,300.0 516.5,310.0 506.5,320.0 497.8,326.0 490.0,317.5 484.0,313.8 469.0,325.0 454.0,333.0 429.0,332.0 419.0,336.0 404.0,334.5 387.0,333.8 374.5,335.0 368.2,328.8 363.2,323.0 357.0,332.5 352.0,340.0 347.0,335.0 342.0,334.5 332.0,337.5 322.0,345.0 314.5,360.0 304.5,368.8 294.5,372.5 284.5,375.0 275.8,372.5 269.5,376.0 256.8,381.5 256.8,422.5 592.0,327.0" fill="url(#st)"/>
<polyline points="256.8,422.5 592.0,327.0" fill="none" stroke="#000" stroke-width="0.6"/>
<polyline points="256.8,381.0 256.8,422.5" fill="none" stroke="#000" stroke-width="1.0"/>
<rect x="644.3" y="153.50" width="10.4" height="7.30" fill="#e6e6e6"/>
<rect x="644.3" y="160.50" width="10.4" height="18.68" fill="#ffb4b4"/>
<rect x="644.3" y="178.88" width="10.4" height="18.68" fill="#ff1414"/>
<rect x="644.3" y="197.26" width="10.4" height="18.68" fill="#ff8c00"/>
<rect x="644.3" y="215.64" width="10.4" height="18.68" fill="#ffc000"/>
<rect x="644.3" y="234.02" width="10.4" height="18.68" fill="#fff500"/>
<rect x="644.3" y="252.40" width="10.4" height="18.68" fill="#00f236"/>
<rect x="644.3" y="270.78" width="10.4" height="18.68" fill="#00e6ff"/>
<rect x="644.3" y="289.16" width="10.4" height="18.68" fill="#00b0ff"/>
<rect x="644.3" y="307.54" width="10.4" height="18.68" fill="#0078ff"/>
<rect x="644.3" y="325.92" width="10.4" height="14.30" fill="#0000f0"/>
<text x="660" y="163.8" font-size="9.4" font-weight="bold" fill="#111">1.65</text>
<text x="660" y="182.2" font-size="9.4" font-weight="bold" fill="#111">1.5</text>
<text x="660" y="200.6" font-size="9.4" font-weight="bold" fill="#111">1.35</text>
<text x="660" y="218.9" font-size="9.4" font-weight="bold" fill="#111">1.2</text>
<text x="660" y="237.3" font-size="9.4" font-weight="bold" fill="#111">1.05</text>
<text x="660" y="255.7" font-size="9.4" font-weight="bold" fill="#111">0.9</text>
<text x="660" y="274.1" font-size="9.4" font-weight="bold" fill="#111">0.75</text>
<text x="660" y="292.5" font-size="9.4" font-weight="bold" fill="#111">0.6</text>
<text x="660" y="310.8" font-size="9.4" font-weight="bold" fill="#111">0.45</text>
<text x="660" y="329.2" font-size="9.4" font-weight="bold" fill="#111">0.3</text>
<text x="181" y="22.1" font-size="11.3" font-weight="bold" textLength="327.3" lengthAdjust="spacingAndGlyphs">Normalised Wind Speed for 180.0 degs Direction, 30.0m Height</text>
<text transform="matrix(0.962,-0.272,0.585,0.50,356,407.6)" font-size="13" textLength="167.5" lengthAdjust="spacingAndGlyphs" xml:space="preserve">Easting  -  415500 to 429540</text>
<text transform="matrix(0.569,0.456,-0.962,0.272,85.8,303.3)" font-size="13" textLength="185.7" lengthAdjust="spacingAndGlyphs" xml:space="preserve">Northing  -  4278720 to 4264680</text>
<text transform="matrix(0.9,-0.2,0,1,57.3,149.5)" font-size="10" text-anchor="end" stroke="#000" stroke-width="0.15">1.7</text>
<text transform="matrix(0.93,-0.215,0.28,0.95,57.5,205.2)" font-size="10.2" text-anchor="end">0.95</text>
<text transform="matrix(0.93,-0.215,0.28,0.95,57.5,261.2)" font-size="10.2" text-anchor="end">0.2</text>
<text transform="matrix(0.59,0.33,0,1,596.0,223.3)" font-size="10" fill="#222">1.7</text>
<text transform="matrix(0.59,0.33,0,1,594.4,278.5)" font-size="10" fill="#222">0.95</text>
<text transform="matrix(0.59,0.33,0,1,594.4,334.0)" font-size="10" fill="#222">0.2</text></svg></body></html>
